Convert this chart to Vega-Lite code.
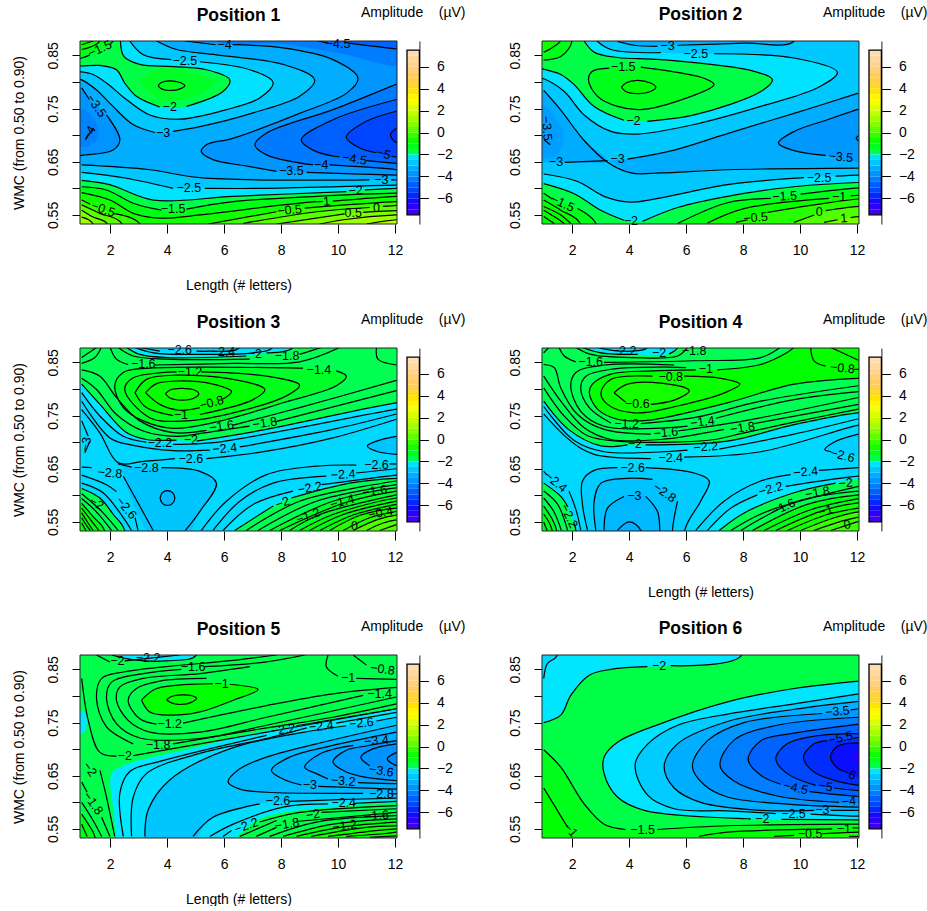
{"$schema":"https://vega.github.io/schema/vega-lite/v6.json","background":"white","padding":{"left":11,"top":5,"right":0,"bottom":0},"bounds":"flush","columns":5,"spacing":{"row":124,"column":10},
"config":{"font":"Liberation Sans","view":{"stroke":null},"axis":{"grid":false,"labelFontSize":14,"titleFontSize":14,"titleFontWeight":"normal","labelColor":"black","titleColor":"black","tickColor":"black","domainColor":"#222","labelFlush":false,"zindex":1},"axisX":{"tickSize":9,"labelPadding":10,"titlePadding":21,"domain":false},"axisLeft":{"tickSize":8,"labelAngle":270,"labelAlign":"center","labelBaseline":"bottom","labelPadding":12,"titlePadding":20,"domain":false,"labelOverlap":false},"title":{"fontSize":17.5,"fontWeight":"bold","color":"black","anchor":"middle","offset":17}},
"datasets":{
"frame":[{"x":0.94,"x2":12.07,"y":0.533,"y2":0.877}],
"bar":[{"v":-7.25,"a":-7.5,"b":-7},{"v":-6.75,"a":-7,"b":-6.5},{"v":-6.25,"a":-6.5,"b":-6},{"v":-5.75,"a":-6,"b":-5.5},{"v":-5.25,"a":-5.5,"b":-5},{"v":-4.75,"a":-5,"b":-4.5},{"v":-4.25,"a":-4.5,"b":-4},{"v":-3.75,"a":-4,"b":-3.5},{"v":-3.25,"a":-3.5,"b":-3},{"v":-2.75,"a":-3,"b":-2.5},{"v":-2.25,"a":-2.5,"b":-2},{"v":-1.75,"a":-2,"b":-1.5},{"v":-1.25,"a":-1.5,"b":-1},{"v":-0.75,"a":-1,"b":-0.5},{"v":-0.25,"a":-0.5,"b":0},{"v":0.25,"a":0,"b":0.5},{"v":0.75,"a":0.5,"b":1},{"v":1.25,"a":1,"b":1.5},{"v":1.75,"a":1.5,"b":2},{"v":2.25,"a":2,"b":2.5},{"v":2.75,"a":2.5,"b":3},{"v":3.25,"a":3,"b":3.5},{"v":3.75,"a":3.5,"b":4},{"v":4.25,"a":4,"b":4.5},{"v":4.75,"a":4.5,"b":5},{"v":5.25,"a":5,"b":5.5},{"v":5.75,"a":5.5,"b":6},{"v":6.25,"a":6,"b":6.5},{"v":6.75,"a":6.5,"b":7},{"v":7.25,"a":7,"b":7.5}],
"bf":[{"a":-7.5,"b":7.5}],
"c1":[{"v":-3.25,"x":0,"y":0.4},{"v":-3.25,"x":14,"y":0.4},{"v":-3.25,"x":14,"y":1},{"v":-3.25,"x":0,"y":1},
{"v":-3.75,"x":4.62,"y":0.877},{"v":-3.75,"x":5.7,"y":0.87},{"v":-3.75,"g":1,"x":6.3,"y":0.87},{"v":-3.75,"g":1,"x":8.07,"y":0.864},{"v":-3.75,"g":1,"x":9.82,"y":0.842},{"v":-3.75,"g":1,"x":10.7,"y":0.807},{"v":-3.75,"g":1,"x":10.3,"y":0.779},{"v":-3.75,"g":1,"x":8.65,"y":0.741},{"v":-3.75,"g":1,"x":6.3,"y":0.694},{"v":-3.75,"g":1,"x":5.38,"y":0.682},{"v":-3.75,"g":1,"x":5.2,"y":0.669},{"v":-3.75,"g":1,"x":5.61,"y":0.654},{"v":-3.75,"g":1,"x":6.9,"y":0.641},{"v":-3.75,"g":1,"x":7.84,"y":0.632},{"v":-3.75,"g":2,"x":8.9,"y":0.63},{"v":-3.75,"g":2,"x":12.05,"y":0.625},{"v":-3.75,"g":2,"x":12.5,"y":0.625},{"v":-3.75,"g":2,"x":12.5,"y":0.95},{"v":-3.75,"g":2,"x":4.62,"y":0.95},
{"v":-4.25,"g":"n","x":5.7,"y":0.9},{"v":-4.25,"g":"n","x":5.7,"y":0.878},{"v":-4.25,"g":"n","x":8,"y":0.872},{"v":-4.25,"g":"n","x":10,"y":0.855},{"v":-4.25,"g":"n","x":12.5,"y":0.835},{"v":-4.25,"g":"n","x":12.5,"y":0.95},
{"v":-4.26,"x":12.05,"y":0.796},{"v":-4.26,"x":9.82,"y":0.748},{"v":-4.26,"x":7.49,"y":0.704},{"v":-4.26,"x":7.08,"y":0.682},{"v":-4.26,"x":7.49,"y":0.663},{"v":-4.26,"x":9.12,"y":0.644},{"v":-4.26,"g":1,"x":9.7,"y":0.644},{"v":-4.26,"g":1,"x":12.05,"y":0.635},{"v":-4.26,"g":1,"x":12.5,"y":0.63},{"v":-4.26,"g":1,"x":12.5,"y":0.8},
{"v":-4.7,"x":9.3,"y":0.877},{"v":-4.7,"x":9.65,"y":0.873},{"v":-4.7,"g":1,"x":10.4,"y":0.873},{"v":-4.7,"g":1,"x":12.05,"y":0.862},{"v":-4.7,"g":1,"x":12.5,"y":0.86},{"v":-4.7,"g":1,"x":12.5,"y":0.95},{"v":-4.7,"g":1,"x":9.3,"y":0.95},
{"v":-4.75,"x":12.05,"y":0.767},{"v":-4.75,"x":9.82,"y":0.729},{"v":-4.75,"x":8.71,"y":0.691},{"v":-4.75,"x":9.24,"y":0.669},{"v":-4.75,"x":10.06,"y":0.659},{"v":-4.75,"g":1,"x":10.99,"y":0.652},{"v":-4.75,"g":1,"x":12.05,"y":0.647},{"v":-4.75,"g":1,"x":12.5,"y":0.645},{"v":-4.75,"g":1,"x":12.5,"y":0.77},
{"v":-5.25,"x":12.05,"y":0.745},{"v":-5.25,"x":10.99,"y":0.726},{"v":-5.25,"x":10.29,"y":0.696},{"v":-5.25,"x":10.76,"y":0.676},{"v":-5.25,"x":11.35,"y":0.667},{"v":-5.25,"g":1,"x":11.87,"y":0.66},{"v":-5.25,"g":1,"x":12.05,"y":0.659},{"v":-5.25,"g":1,"x":12.5,"y":0.655},{"v":-5.25,"g":1,"x":12.5,"y":0.75},
{"v":-5.6,"x":12.05,"y":0.713},{"v":-5.6,"x":11.84,"y":0.701},{"v":-5.6,"x":12.05,"y":0.686},{"v":-5.6,"x":12.5,"y":0.686},{"v":-5.6,"x":12.5,"y":0.713},
{"v":-3.76,"x":1,"y":0.789},{"v":-3.76,"x":1.27,"y":0.767},{"v":-3.76,"g":1,"x":1.87,"y":0.738},{"v":-3.76,"g":1,"x":2.34,"y":0.691},{"v":-3.76,"g":1,"x":2.1,"y":0.672},{"v":-3.76,"g":1,"x":1,"y":0.662},{"v":-3.76,"g":1,"x":0.5,"y":0.66},{"v":-3.76,"g":1,"x":0.5,"y":0.79},
{"v":-4.1,"g":"n","x":0.5,"y":0.76},{"v":-4.1,"g":"n","x":1.3,"y":0.74},{"v":-4.1,"g":"n","x":1.6,"y":0.7},{"v":-4.1,"g":"n","x":1.3,"y":0.68},{"v":-4.1,"g":"n","x":0.5,"y":0.68},
{"v":51,"x":1.13,"y":0.691},{"v":51,"x":1.4,"y":0.713},
{"v":-2.75,"x":3.63,"y":0.877},{"v":-2.75,"x":4.33,"y":0.861},{"v":-2.75,"x":5.73,"y":0.851},{"v":-2.75,"x":8.07,"y":0.833},{"v":-2.75,"x":9.18,"y":0.804},{"v":-2.75,"x":8.65,"y":0.773},{"v":-2.75,"x":7.02,"y":0.742},{"v":-2.75,"x":5.15,"y":0.716},{"v":-2.75,"x":4.2,"y":0.707},{"v":-2.75,"g":1,"x":3.57,"y":0.705},{"v":-2.75,"g":1,"x":2.8,"y":0.72},{"v":-2.75,"g":1,"x":2.1,"y":0.754},{"v":-2.75,"g":1,"x":1.52,"y":0.785},{"v":-2.75,"g":1,"x":1,"y":0.804},{"v":-2.75,"g":1,"x":0.5,"y":0.81},{"v":-2.75,"g":1,"x":0.5,"y":0.95},{"v":-2.75,"g":1,"x":3.63,"y":0.95},
{"v":-2.25,"x":2.69,"y":0.877},{"v":-2.25,"x":3.16,"y":0.851},{"v":-2.25,"x":4.15,"y":0.842},{"v":-2.25,"g":1,"x":5.15,"y":0.838},{"v":-2.25,"g":1,"x":6.9,"y":0.823},{"v":-2.25,"g":1,"x":7.72,"y":0.799},{"v":-2.25,"g":1,"x":7.25,"y":0.77},{"v":-2.25,"g":1,"x":6.08,"y":0.748},{"v":-2.25,"g":1,"x":4.44,"y":0.73},{"v":-2.25,"g":1,"x":3.39,"y":0.738},{"v":-2.25,"g":1,"x":2.57,"y":0.767},{"v":-2.25,"g":1,"x":1.87,"y":0.798},{"v":-2.25,"g":1,"x":1.4,"y":0.814},{"v":-2.25,"g":1,"x":1,"y":0.819},{"v":-2.25,"g":1,"x":0.5,"y":0.82},{"v":-2.25,"g":1,"x":0.5,"y":0.95},{"v":-2.25,"g":1,"x":2.69,"y":0.95},
{"v":-1.7,"x":2.36,"y":0.877},{"v":-1.7,"x":2.48,"y":0.848},{"v":-1.7,"x":3.04,"y":0.833},{"v":-1.7,"x":4.21,"y":0.829},{"v":-1.7,"x":5.38,"y":0.823},{"v":-1.7,"x":6.2,"y":0.804},{"v":-1.7,"x":5.96,"y":0.782},{"v":-1.7,"x":4.68,"y":0.754},{"v":-1.7,"g":1,"x":3.74,"y":0.753},{"v":-1.7,"g":1,"x":2.92,"y":0.773},{"v":-1.7,"g":1,"x":2.51,"y":0.798},{"v":-1.7,"g":1,"x":2.22,"y":0.823},{"v":-1.7,"g":1,"x":1.64,"y":0.831},{"v":-1.7,"g":1,"x":1,"y":0.83},{"v":-1.7,"g":1,"x":0.5,"y":0.83},{"v":-1.7,"g":1,"x":0.5,"y":0.95},{"v":-1.7,"g":1,"x":2.36,"y":0.95},
{"v":-1.45,"g":"n","x":3,"y":0.8},{"v":-1.45,"g":"n","x":3.7,"y":0.825},{"v":-1.45,"g":"n","x":5,"y":0.815},{"v":-1.45,"g":"n","x":5.7,"y":0.8},{"v":-1.45,"g":"n","x":4.8,"y":0.77},{"v":-1.45,"g":"n","x":3.7,"y":0.765},
{"v":-1.3,"x":3.68,"y":0.793},{"v":-1.3,"x":3.8,"y":0.799},{"v":-1.3,"x":4.09,"y":0.802},{"v":-1.3,"x":4.45,"y":0.799},{"v":-1.3,"x":4.62,"y":0.793},{"v":-1.3,"x":4.45,"y":0.787},{"v":-1.3,"x":4.15,"y":0.784},{"v":-1.3,"x":3.8,"y":0.787},{"v":-1.3,"x":3.68,"y":0.793},
{"v":-1.2,"x":2.1,"y":0.877},{"v":-1.2,"x":1.99,"y":0.87},{"v":-1.2,"g":1,"x":1.29,"y":0.851},{"v":-1.2,"g":1,"x":1,"y":0.845},{"v":-1.2,"g":1,"x":0.5,"y":0.84},{"v":-1.2,"g":1,"x":0.5,"y":0.95},{"v":-1.2,"g":1,"x":2.1,"y":0.95},
{"v":-0.8,"x":1,"y":0.861},{"v":-0.8,"x":1.64,"y":0.877},{"v":-0.8,"x":1.64,"y":0.95},{"v":-0.8,"x":0.5,"y":0.95},{"v":-0.8,"x":0.5,"y":0.86},
{"v":52,"x":1,"y":0.87},{"v":52,"x":1.4,"y":0.877},
{"v":-2.76,"x":1,"y":0.644},{"v":-2.76,"x":3.39,"y":0.635},{"v":-2.76,"x":5.15,"y":0.62},{"v":-2.76,"x":11.1,"y":0.616},{"v":-2.76,"g":1,"x":11.87,"y":0.616},{"v":-2.76,"g":1,"x":12.05,"y":0.616},{"v":-2.76,"g":1,"x":12.5,"y":0.616},{"v":-2.76,"g":1,"x":12.5,"y":0.4},{"v":-2.76,"g":1,"x":0.5,"y":0.4},{"v":-2.76,"g":1,"x":0.5,"y":0.644},
{"v":-2.26,"x":1,"y":0.63},{"v":-2.26,"x":2.57,"y":0.619},{"v":-2.26,"x":4.21,"y":0.6},{"v":-2.26,"g":1,"x":5.32,"y":0.6},{"v":-2.26,"g":1,"x":7.49,"y":0.6},{"v":-2.26,"g":1,"x":12.05,"y":0.606},{"v":-2.26,"g":1,"x":12.5,"y":0.606},{"v":-2.26,"g":1,"x":12.5,"y":0.4},{"v":-2.26,"g":1,"x":0.5,"y":0.4},{"v":-2.26,"g":1,"x":0.5,"y":0.63},
{"v":-1.71,"x":1,"y":0.615},{"v":-1.71,"x":1.98,"y":0.607},{"v":-1.71,"x":3.51,"y":0.578},{"v":-1.71,"x":6.32,"y":0.585},{"v":-1.71,"x":10.29,"y":0.594},{"v":-1.71,"g":1,"x":10.94,"y":0.597},{"v":-1.71,"g":1,"x":12.05,"y":0.6},{"v":-1.71,"g":1,"x":12.5,"y":0.6},{"v":-1.71,"g":1,"x":12.5,"y":0.4},{"v":-1.71,"g":1,"x":0.5,"y":0.4},{"v":-1.71,"g":1,"x":0.5,"y":0.615},
{"v":-1.21,"x":1,"y":0.603},{"v":-1.21,"x":1.87,"y":0.597},{"v":-1.21,"x":2.81,"y":0.572},{"v":-1.21,"x":3.8,"y":0.559},{"v":-1.21,"g":1,"x":4.68,"y":0.561},{"v":-1.21,"g":1,"x":6.32,"y":0.575},{"v":-1.21,"g":1,"x":9.24,"y":0.585},{"v":-1.21,"g":1,"x":12.05,"y":0.591},{"v":-1.21,"g":1,"x":12.5,"y":0.591},{"v":-1.21,"g":1,"x":12.5,"y":0.4},{"v":-1.21,"g":1,"x":0.5,"y":0.4},{"v":-1.21,"g":1,"x":0.5,"y":0.603},
{"v":-0.7,"x":1,"y":0.592},{"v":-0.7,"x":1.99,"y":0.578},{"v":-0.7,"x":2.81,"y":0.553},{"v":-0.7,"x":3.74,"y":0.544},{"v":-0.7,"x":5.15,"y":0.55},{"v":-0.7,"x":8.07,"y":0.569},{"v":-0.7,"x":9.24,"y":0.575},{"v":-0.7,"g":1,"x":9.82,"y":0.576},{"v":-0.7,"g":1,"x":12.05,"y":0.585},{"v":-0.7,"g":1,"x":12.5,"y":0.585},{"v":-0.7,"g":1,"x":12.5,"y":0.4},{"v":-0.7,"g":1,"x":0.5,"y":0.4},{"v":-0.7,"g":1,"x":0.5,"y":0.592},
{"v":-0.2,"x":1,"y":0.578},{"v":-0.2,"x":1.3,"y":0.57},{"v":-0.2,"g":1,"x":2.1,"y":0.553},{"v":-0.2,"g":1,"x":3.04,"y":0.533},{"v":-0.2,"g":1,"x":3.04,"y":0.4},{"v":-0.2,"g":1,"x":0.5,"y":0.4},{"v":-0.2,"g":1,"x":0.5,"y":0.578},
{"v":-0.21,"x":5.44,"y":0.533},{"v":-0.21,"x":7.84,"y":0.556},{"v":-0.21,"g":1,"x":8.83,"y":0.563},{"v":-0.21,"g":1,"x":12.05,"y":0.575},{"v":-0.21,"g":1,"x":12.5,"y":0.575},{"v":-0.21,"g":1,"x":12.5,"y":0.4},{"v":-0.21,"g":1,"x":5.44,"y":0.4},
{"v":0.2,"x":1,"y":0.569},{"v":0.2,"x":1.64,"y":0.553},{"v":0.2,"x":2.4,"y":0.534},{"v":0.2,"x":2.4,"y":0.4},{"v":0.2,"x":0.5,"y":0.4},{"v":0.2,"x":0.5,"y":0.569},
{"v":0.21,"x":6.67,"y":0.534},{"v":0.21,"x":9.24,"y":0.556},{"v":0.21,"x":11.11,"y":0.564},{"v":0.21,"g":1,"x":11.58,"y":0.566},{"v":0.21,"g":1,"x":12.05,"y":0.568},{"v":0.21,"g":1,"x":12.5,"y":0.568},{"v":0.21,"g":1,"x":12.5,"y":0.4},{"v":0.21,"g":1,"x":6.67,"y":0.4},
{"v":0.7,"x":1,"y":0.559},{"v":0.7,"x":1.4,"y":0.546},{"v":0.7,"x":1.9,"y":0.533},{"v":0.7,"x":1.9,"y":0.4},{"v":0.7,"x":0.5,"y":0.4},{"v":0.7,"x":0.5,"y":0.559},
{"v":0.71,"x":7.84,"y":0.533},{"v":0.71,"x":10.23,"y":0.552},{"v":0.71,"g":1,"x":10.88,"y":0.555},{"v":0.71,"g":1,"x":12.05,"y":0.558},{"v":0.71,"g":1,"x":12.5,"y":0.558},{"v":0.71,"g":1,"x":12.5,"y":0.4},{"v":0.71,"g":1,"x":7.84,"y":0.4},
{"v":1.2,"x":1,"y":0.546},{"v":1.2,"x":1.4,"y":0.533},{"v":1.2,"x":1.4,"y":0.4},{"v":1.2,"x":0.5,"y":0.4},{"v":1.2,"x":0.5,"y":0.546},
{"v":1.21,"x":9.36,"y":0.533},{"v":1.21,"x":10.18,"y":0.541},{"v":1.21,"x":12.05,"y":0.55},{"v":1.21,"x":12.5,"y":0.55},{"v":1.21,"x":12.5,"y":0.4},{"v":1.21,"x":9.36,"y":0.4},
{"v":1.6,"x":11,"y":0.533},{"v":1.6,"x":12.05,"y":0.541},{"v":1.6,"x":12.5,"y":0.541},{"v":1.6,"x":12.5,"y":0.4},{"v":1.6,"x":11,"y":0.4}],
"t1":[{"t":"−1.5","x":1.64,"y":0.862,"a":-25},{"t":"−2.5","x":4.62,"y":0.839},{"t":"−4","x":6.02,"y":0.869},{"t":"−4.5","x":10,"y":0.872},{"t":"−2","x":4.09,"y":0.753},{"t":"−3.5","x":1.52,"y":0.755,"a":55},{"t":"−4","x":1.26,"y":0.704,"a":-60},{"t":"−3","x":3.86,"y":0.705},{"t":"−5","x":11.6,"y":0.665,"a":15},{"t":"−4.5","x":10.58,"y":0.655,"a":8},{"t":"−4","x":9.41,"y":0.644},{"t":"−3.5","x":8.36,"y":0.632},{"t":"−3","x":11.52,"y":0.615},{"t":"−2.5","x":4.76,"y":0.6},{"t":"−2","x":10.62,"y":0.596,"a":-5},{"t":"−1.5","x":4.21,"y":0.561},{"t":"−1","x":9.47,"y":0.575,"a":-5},{"t":"−0.5","x":1.75,"y":0.561,"a":20},{"t":"−0.5","x":8.3,"y":0.559,"a":-5},{"t":"0.5","x":10.53,"y":0.553},{"t":"0","x":11.35,"y":0.564}],
"c2":[{"v":-2.75,"x":0,"y":0.4},{"v":-2.75,"x":14,"y":0.4},{"v":-2.75,"x":14,"y":1},{"v":-2.75,"x":0,"y":1},
{"v":-3.2,"x":3.59,"y":0.876},{"v":-3.2,"x":4.18,"y":0.869},{"v":-3.2,"x":4.99,"y":0.867},{"v":-3.2,"g":1,"x":5.7,"y":0.869},{"v":-3.2,"g":1,"x":8.04,"y":0.873},{"v":-3.2,"g":1,"x":9.79,"y":0.877},{"v":-3.2,"g":1,"x":9.79,"y":0.95},{"v":-3.2,"g":1,"x":3.59,"y":0.95},
{"v":-3.25,"g":"n","x":3.24,"y":0.652},{"v":-3.25,"g":"n","x":3.94,"y":0.655},{"v":-3.25,"g":"n","x":5.58,"y":0.672},{"v":-3.25,"g":"n","x":7.45,"y":0.703},{"v":-3.25,"g":"n","x":9.79,"y":0.741},{"v":-3.25,"g":"n","x":12.05,"y":0.779},{"v":-3.25,"g":"n","x":12.5,"y":0.78},{"v":-3.25,"g":"n","x":12.5,"y":0.638},{"v":-3.25,"g":"n","x":12.05,"y":0.638},{"v":-3.25,"g":"n","x":7.45,"y":0.635},{"v":-3.25,"g":"n","x":5.11,"y":0.629},{"v":-3.25,"g":"n","x":4.06,"y":0.629},
{"v":-3.26,"g":"n","x":0.5,"y":0.79},{"v":-3.26,"g":"n","x":1,"y":0.784},{"v":-3.26,"g":"n","x":1.6,"y":0.747},{"v":-3.26,"g":"n","x":2.42,"y":0.69},{"v":-3.26,"g":"n","x":3.24,"y":0.652},{"v":-3.26,"g":"n","x":1.74,"y":0.649},{"v":-3.26,"g":"n","x":0.5,"y":0.649},
{"v":51,"x":1,"y":0.784},{"v":51,"x":1.6,"y":0.747},{"v":51,"x":2.42,"y":0.69},{"v":51,"x":3.24,"y":0.649},{"v":51,"x":4.06,"y":0.629},{"v":51,"x":5.11,"y":0.629},{"v":51,"x":7.45,"y":0.635},{"v":51,"x":12.05,"y":0.638},
{"v":52,"x":12.05,"y":0.779},{"v":52,"x":9.79,"y":0.741},{"v":52,"x":7.45,"y":0.703},{"v":52,"x":5.58,"y":0.672},{"v":52,"x":3.94,"y":0.655},{"v":52,"g":1,"x":3.24,"y":0.652},{"v":52,"g":1,"x":1.74,"y":0.649},
{"v":-3.7,"x":12.05,"y":0.749},{"v":-3.7,"x":10.96,"y":0.729},{"v":-3.7,"x":9.79,"y":0.707},{"v":-3.7,"x":9.24,"y":0.685},{"v":-3.7,"x":9.79,"y":0.671},{"v":-3.7,"x":10.9,"y":0.662},{"v":-3.7,"g":"n","x":12.5,"y":0.655},{"v":-3.7,"g":"n","x":12.5,"y":0.75},
{"v":-3.55,"g":"n","x":0.5,"y":0.78},{"v":-3.55,"g":"n","x":1.3,"y":0.74},{"v":-3.55,"g":"n","x":1.7,"y":0.7},{"v":-3.55,"g":"n","x":1.4,"y":0.66},{"v":-3.55,"g":"n","x":0.5,"y":0.66},
{"v":53,"x":1.02,"y":0.691},{"v":53,"x":1.23,"y":0.682},{"v":54,"x":12.05,"y":0.699},{"v":54,"x":11.97,"y":0.694},{"v":54,"x":12.05,"y":0.689},
{"v":-2.25,"x":2.87,"y":0.877},{"v":-2.25,"x":3.36,"y":0.861},{"v":-2.25,"x":5.11,"y":0.855},{"v":-2.25,"g":1,"x":6.98,"y":0.853},{"v":-2.25,"g":1,"x":9.79,"y":0.845},{"v":-2.25,"g":1,"x":11.31,"y":0.818},{"v":-2.25,"g":1,"x":10.61,"y":0.789},{"v":-2.25,"g":1,"x":8.62,"y":0.754},{"v":-2.25,"g":1,"x":6.28,"y":0.72},{"v":-2.25,"g":1,"x":4.29,"y":0.702},{"v":-2.25,"g":1,"x":3.36,"y":0.707},{"v":-2.25,"g":1,"x":2.42,"y":0.738},{"v":-2.25,"g":1,"x":1.72,"y":0.782},{"v":-2.25,"g":1,"x":1,"y":0.806},{"v":-2.25,"g":1,"x":0.5,"y":0.81},{"v":-2.25,"g":1,"x":0.5,"y":0.95},{"v":-2.25,"g":1,"x":2.87,"y":0.95},
{"v":-1.7,"x":2.42,"y":0.877},{"v":-1.7,"x":2.77,"y":0.856},{"v":-1.7,"x":3.59,"y":0.846},{"v":-1.7,"x":5.11,"y":0.842},{"v":-1.7,"x":8.39,"y":0.82},{"v":-1.7,"x":9.03,"y":0.804},{"v":-1.7,"x":8.62,"y":0.782},{"v":-1.7,"x":6.28,"y":0.738},{"v":-1.7,"x":4.64,"y":0.726},{"v":-1.7,"g":1,"x":3.82,"y":0.728},{"v":-1.7,"g":1,"x":2.77,"y":0.754},{"v":-1.7,"g":1,"x":2.07,"y":0.795},{"v":-1.7,"g":1,"x":1.6,"y":0.814},{"v":-1.7,"g":1,"x":1,"y":0.824},{"v":-1.7,"g":1,"x":0.5,"y":0.83},{"v":-1.7,"g":1,"x":0.5,"y":0.95},{"v":-1.7,"g":1,"x":2.42,"y":0.95},
{"v":-1.3,"x":3.3,"y":0.826},{"v":-1.3,"x":2.71,"y":0.82},{"v":-1.3,"x":2.57,"y":0.804},{"v":-1.3,"x":2.89,"y":0.773},{"v":-1.3,"x":3.59,"y":0.754},{"v":-1.3,"x":4.41,"y":0.748},{"v":-1.3,"x":5.7,"y":0.764},{"v":-1.3,"x":6.98,"y":0.795},{"v":-1.3,"x":6.63,"y":0.807},{"v":-1.3,"x":5.81,"y":0.817},{"v":-1.3,"x":4.41,"y":0.828},
{"v":-1,"x":3.73,"y":0.79},{"v":-1,"x":3.88,"y":0.798},{"v":-1,"x":4.29,"y":0.803},{"v":-1,"x":4.75,"y":0.798},{"v":-1,"x":4.94,"y":0.79},{"v":-1,"x":4.75,"y":0.782},{"v":-1,"x":4.35,"y":0.778},{"v":-1,"x":3.88,"y":0.782},{"v":-1,"x":3.73,"y":0.79},
{"v":-1.2,"x":1,"y":0.841},{"v":-1.2,"x":1.6,"y":0.848},{"v":-1.2,"x":1.93,"y":0.867},{"v":-1.2,"x":1.99,"y":0.877},{"v":-1.2,"x":1.99,"y":0.95},{"v":-1.2,"x":0.5,"y":0.95},{"v":-1.2,"x":0.5,"y":0.84},
{"v":-0.8,"x":1,"y":0.856},{"v":-0.8,"x":1.31,"y":0.865},{"v":-0.8,"x":1.58,"y":0.877},{"v":-0.8,"x":1.58,"y":0.95},{"v":-0.8,"x":0.5,"y":0.95},{"v":-0.8,"x":0.5,"y":0.855},
{"v":-2.26,"x":1,"y":0.627},{"v":-2.26,"x":2.19,"y":0.613},{"v":-2.26,"x":3.12,"y":0.585},{"v":-2.26,"x":4.06,"y":0.574},{"v":-2.26,"x":5.11,"y":0.582},{"v":-2.26,"x":7.45,"y":0.607},{"v":-2.26,"x":10.14,"y":0.62},{"v":-2.26,"g":1,"x":11.25,"y":0.623},{"v":-2.26,"g":1,"x":12.05,"y":0.625},{"v":-2.26,"g":1,"x":12.5,"y":0.625},{"v":-2.26,"g":1,"x":12.5,"y":0.4},{"v":-2.26,"g":1,"x":0.5,"y":0.4},{"v":-2.26,"g":1,"x":0.5,"y":0.627},
{"v":-1.71,"x":1,"y":0.609},{"v":-1.71,"x":2.07,"y":0.59},{"v":-1.71,"x":3,"y":0.559},{"v":-1.71,"x":3.82,"y":0.54},{"v":-1.71,"g":1,"x":4.47,"y":0.538},{"v":-1.71,"g":1,"x":5.7,"y":0.564},{"v":-1.71,"g":1,"x":7.45,"y":0.585},{"v":-1.71,"g":1,"x":9.79,"y":0.603},{"v":-1.71,"g":1,"x":12.05,"y":0.611},{"v":-1.71,"g":1,"x":12.5,"y":0.611},{"v":-1.71,"g":1,"x":12.5,"y":0.4},{"v":-1.71,"g":1,"x":0.5,"y":0.4},{"v":-1.71,"g":1,"x":0.5,"y":0.609},
{"v":-1.22,"x":1,"y":0.591},{"v":-1.22,"x":1.3,"y":0.58},{"v":-1.22,"g":1,"x":2.19,"y":0.562},{"v":-1.22,"g":1,"x":2.83,"y":0.534},{"v":-1.22,"g":1,"x":2.83,"y":0.4},{"v":-1.22,"g":1,"x":0.5,"y":0.4},{"v":-1.22,"g":1,"x":0.5,"y":0.591},
{"v":-1.21,"x":5.7,"y":0.534},{"v":-1.21,"x":7.45,"y":0.573},{"v":-1.21,"x":8.97,"y":0.581},{"v":-1.21,"g":1,"x":10.02,"y":0.589},{"v":-1.21,"g":1,"x":12.05,"y":0.601},{"v":-1.21,"g":1,"x":12.5,"y":0.601},{"v":-1.21,"g":1,"x":12.5,"y":0.4},{"v":-1.21,"g":1,"x":5.7,"y":0.4},
{"v":-0.81,"x":6.75,"y":0.535},{"v":-0.81,"x":8.03,"y":0.562},{"v":-0.81,"x":11.02,"y":0.581},{"v":-0.81,"g":1,"x":11.78,"y":0.586},{"v":-0.81,"g":1,"x":12.05,"y":0.587},{"v":-0.81,"g":1,"x":12.5,"y":0.587},{"v":-0.81,"g":1,"x":12.5,"y":0.4},{"v":-0.81,"g":1,"x":6.75,"y":0.4},
{"v":-0.4,"x":7.75,"y":0.536},{"v":-0.4,"x":8.16,"y":0.541},{"v":-0.4,"g":1,"x":8.86,"y":0.555},{"v":-0.4,"g":1,"x":10.5,"y":0.569},{"v":-0.4,"g":1,"x":12.05,"y":0.58},{"v":-0.4,"g":1,"x":12.5,"y":0.58},{"v":-0.4,"g":1,"x":12.5,"y":0.4},{"v":-0.4,"g":1,"x":7.75,"y":0.4},
{"v":0.1,"x":9.79,"y":0.536},{"v":0.1,"x":10.5,"y":0.55},{"v":0.1,"g":1,"x":10.9,"y":0.558},{"v":0.1,"g":1,"x":12.05,"y":0.566},{"v":0.1,"g":1,"x":12.5,"y":0.566},{"v":0.1,"g":1,"x":12.5,"y":0.4},{"v":0.1,"g":1,"x":9.79,"y":0.4},
{"v":0.6,"x":10.84,"y":0.536},{"v":0.6,"x":11.32,"y":0.541},{"v":0.6,"g":1,"x":11.78,"y":0.545},{"v":0.6,"g":1,"x":12.05,"y":0.547},{"v":0.6,"g":1,"x":12.5,"y":0.547},{"v":0.6,"g":1,"x":12.5,"y":0.4},{"v":0.6,"g":1,"x":10.84,"y":0.4},
{"v":-0.91,"x":1,"y":0.578},{"v":-0.91,"x":1.6,"y":0.559},{"v":-0.91,"x":2.28,"y":0.534},{"v":-0.91,"x":2.28,"y":0.4},{"v":-0.91,"x":0.5,"y":0.4},{"v":-0.91,"x":0.5,"y":0.578},
{"v":55,"x":1,"y":0.566},{"v":55,"x":1.6,"y":0.55},{"v":55,"x":1.95,"y":0.534},{"v":56,"x":1,"y":0.559},{"v":56,"x":1.37,"y":0.547},{"v":56,"x":1.72,"y":0.534},{"v":57,"x":1,"y":0.547},{"v":57,"x":1.37,"y":0.534}],
"t2":[{"t":"−3","x":5.35,"y":0.867},{"t":"−2.5","x":6.34,"y":0.853},{"t":"−1.5","x":3.79,"y":0.828},{"t":"−2","x":4.15,"y":0.726},{"t":"−3.5","x":1.11,"y":0.713,"a":85},{"t":"−3","x":1.43,"y":0.649},{"t":"−3","x":3.59,"y":0.655},{"t":"−3.5","x":11.43,"y":0.659,"a":5},{"t":"−2.5","x":10.67,"y":0.62},{"t":"−1.5","x":9.46,"y":0.585,"a":-3},{"t":"−1","x":11.37,"y":0.583},{"t":"−1.5","x":1.66,"y":0.572,"a":25},{"t":"−0.5","x":8.44,"y":0.545,"a":-5},{"t":"0","x":10.67,"y":0.556},{"t":"1","x":11.54,"y":0.544,"a":-5},{"t":"−2","x":4.06,"y":0.539}],
"c3":[{"v":-2.5,"x":0,"y":0.4},{"v":-2.5,"x":14,"y":0.4},{"v":-2.5,"x":14,"y":1},{"v":-2.5,"x":0,"y":1},
{"v":-2.8,"g":"n","x":2.46,"y":0.655},{"v":-2.8,"g":"n","x":3.8,"y":0.652},{"v":-2.8,"g":"n","x":5.15,"y":0.645},{"v":-2.8,"g":"n","x":5.73,"y":0.623},{"v":-2.8,"g":"n","x":5.15,"y":0.57},{"v":-2.8,"g":"n","x":4.64,"y":0.52},{"v":-2.8,"g":"n","x":3.51,"y":0.52},{"v":-2.8,"g":"n","x":2.46,"y":0.636},
{"v":51,"x":1,"y":0.653},{"v":51,"x":1.35,"y":0.652},{"v":52,"x":2.46,"y":0.636},{"v":52,"x":3.51,"y":0.534},{"v":53,"x":2.28,"y":0.659},{"v":53,"x":2.75,"y":0.653},{"v":53,"g":1,"x":3.8,"y":0.652},{"v":53,"g":1,"x":5.15,"y":0.645},{"v":53,"g":1,"x":5.73,"y":0.623},{"v":53,"g":1,"x":5.15,"y":0.57},{"v":53,"g":1,"x":4.64,"y":0.534},
{"v":-3,"x":3.75,"y":0.595},{"v":-3,"x":3.83,"y":0.605},{"v":-3,"x":4.01,"y":0.609},{"v":-3,"x":4.19,"y":0.605},{"v":-3,"x":4.27,"y":0.595},{"v":-3,"x":4.19,"y":0.585},{"v":-3,"x":4.01,"y":0.581},{"v":-3,"x":3.83,"y":0.585},{"v":-3,"x":3.75,"y":0.595},
{"v":-2.81,"x":12.05,"y":0.711},{"v":-2.81,"x":11.35,"y":0.702},{"v":-2.81,"x":11.03,"y":0.693},{"v":-2.81,"x":11.35,"y":0.683},{"v":-2.81,"x":12.05,"y":0.677},{"v":-2.81,"x":12.5,"y":0.677},{"v":-2.81,"x":12.5,"y":0.711},
{"v":54,"x":1,"y":0.761},{"v":54,"x":1.64,"y":0.717},{"v":54,"x":2.28,"y":0.661},{"v":54,"x":3.16,"y":0.664},{"v":54,"x":4.27,"y":0.669},{"v":54,"g":1,"x":5.38,"y":0.669},{"v":54,"g":1,"x":7.49,"y":0.683},{"v":54,"g":1,"x":9.82,"y":0.708},{"v":54,"g":1,"x":12.05,"y":0.743},
{"v":55,"x":1,"y":0.777},{"v":55,"x":1.99,"y":0.708},{"v":55,"x":2.81,"y":0.694},{"v":55,"x":4.21,"y":0.684},{"v":55,"x":5.5,"y":0.685},{"v":55,"g":1,"x":6.55,"y":0.691},{"v":55,"g":1,"x":9.82,"y":0.724},{"v":55,"g":1,"x":12.05,"y":0.753},
{"v":-2.2,"x":1,"y":0.793},{"v":-2.2,"x":1.64,"y":0.749},{"v":-2.2,"x":2.46,"y":0.711},{"v":-2.2,"x":3.27,"y":0.7},{"v":-2.2,"g":1,"x":4.21,"y":0.696},{"v":-2.2,"g":1,"x":5.61,"y":0.699},{"v":-2.2,"g":1,"x":12.05,"y":0.762},{"v":-2.2,"g":1,"x":12.5,"y":0.765},{"v":-2.2,"g":1,"x":12.5,"y":0.95},{"v":-2.2,"g":1,"x":0.5,"y":0.95},{"v":-2.2,"g":1,"x":0.5,"y":0.795},
{"v":-1.8,"x":1,"y":0.809},{"v":-1.8,"x":1.64,"y":0.771},{"v":-1.8,"x":2.57,"y":0.718},{"v":-1.8,"x":3.27,"y":0.705},{"v":-1.8,"x":4.33,"y":0.704},{"v":-1.8,"g":1,"x":5.03,"y":0.702},{"v":-1.8,"g":1,"x":7.49,"y":0.724},{"v":-1.8,"g":1,"x":12.05,"y":0.774},{"v":-1.8,"g":1,"x":12.5,"y":0.775},{"v":-1.8,"g":1,"x":12.5,"y":0.95},{"v":-1.8,"g":1,"x":0.5,"y":0.95},{"v":-1.8,"g":1,"x":0.5,"y":0.81},
{"v":-2.15,"x":2.57,"y":0.878},{"v":-2.15,"x":3.04,"y":0.865},{"v":-2.15,"x":3.98,"y":0.859},{"v":-2.15,"x":6.78,"y":0.862},{"v":-2.15,"g":1,"x":7.49,"y":0.868},{"v":-2.15,"g":1,"x":8.42,"y":0.878},{"v":-2.15,"g":1,"x":8.42,"y":0.95},{"v":-2.15,"g":1,"x":2.57,"y":0.95},
{"v":-2.3,"x":2.87,"y":0.878},{"v":-2.3,"x":3.51,"y":0.868},{"v":-2.3,"x":5.15,"y":0.865},{"v":-2.3,"x":7,"y":0.868},{"v":-2.3,"x":7.7,"y":0.878},{"v":-2.3,"x":7.7,"y":0.95},{"v":-2.3,"x":2.87,"y":0.95},
{"v":-2.51,"x":3.04,"y":0.878},{"v":-2.51,"x":3.74,"y":0.871},{"v":-2.51,"g":1,"x":5.03,"y":0.871},{"v":-2.51,"g":1,"x":5.5,"y":0.871},{"v":-2.51,"g":1,"x":6.55,"y":0.878},{"v":-2.51,"g":1,"x":6.55,"y":0.95},{"v":-2.51,"g":1,"x":3.04,"y":0.95},
{"v":56,"x":2.28,"y":0.878},{"v":56,"x":2.81,"y":0.862},{"v":56,"x":3.98,"y":0.856},{"v":56,"x":6.9,"y":0.856},{"v":56,"g":1,"x":8.65,"y":0.865},{"v":56,"g":1,"x":9.42,"y":0.878},
{"v":57,"x":1,"y":0.82},{"v":57,"x":1.52,"y":0.799},{"v":57,"x":2.22,"y":0.752},{"v":57,"x":3.16,"y":0.721},{"v":57,"x":4.33,"y":0.711},{"v":57,"x":5.38,"y":0.718},{"v":57,"x":6.9,"y":0.73},{"v":57,"g":1,"x":7.78,"y":0.738},{"v":57,"g":1,"x":12.05,"y":0.797},
{"v":58,"x":1,"y":0.836},{"v":58,"x":1.64,"y":0.824},{"v":58,"x":2.22,"y":0.784},{"v":58,"x":3.04,"y":0.74},{"v":58,"x":4.21,"y":0.718},{"v":58,"x":5.38,"y":0.722},{"v":58,"g":1,"x":6.32,"y":0.732},{"v":58,"g":1,"x":8.65,"y":0.765},{"v":58,"g":1,"x":12.05,"y":0.816},
{"v":59,"x":2,"y":0.878},{"v":59,"x":2.22,"y":0.856},{"v":59,"x":2.63,"y":0.846},{"v":59,"g":1,"x":3.57,"y":0.845},{"v":59,"g":1,"x":6.32,"y":0.848},{"v":59,"g":1,"x":8.65,"y":0.851},{"v":59,"g":1,"x":10.06,"y":0.878},
{"v":-1.5,"x":9.94,"y":0.834},{"v":-1.5,"x":10.29,"y":0.824},{"v":-1.5,"x":9.94,"y":0.806},{"v":-1.5,"x":8.07,"y":0.774},{"v":-1.5,"x":5.73,"y":0.738},{"v":-1.5,"x":4.21,"y":0.726},{"v":-1.5,"x":3.16,"y":0.74},{"v":-1.5,"x":2.46,"y":0.765},{"v":-1.5,"x":2.16,"y":0.806},{"v":-1.5,"x":2.46,"y":0.831},{"v":-1.5,"x":3.39,"y":0.839},{"v":-1.5,"x":8.77,"y":0.839},
{"v":-1.25,"x":5.2,"y":0.832},{"v":-1.25,"x":7.49,"y":0.824},{"v":-1.25,"x":8.65,"y":0.807},{"v":-1.25,"x":8.19,"y":0.787},{"v":-1.25,"x":6.32,"y":0.755},{"v":-1.25,"x":4.68,"y":0.74},{"v":-1.25,"x":3.39,"y":0.746},{"v":-1.25,"x":2.51,"y":0.799},{"v":-1.25,"x":2.81,"y":0.821},{"v":-1.25,"x":4.33,"y":0.832},
{"v":-1,"x":2.87,"y":0.793},{"v":-1,"x":3.27,"y":0.818},{"v":-1,"x":4.33,"y":0.826},{"v":-1,"x":6.32,"y":0.818},{"v":-1,"x":7.43,"y":0.799},{"v":-1,"x":7.02,"y":0.78},{"v":-1,"x":5.15,"y":0.752},{"v":-1,"g":1,"x":4.21,"y":0.75},{"v":-1,"g":1,"x":3.27,"y":0.765},{"v":-1,"g":1,"x":2.87,"y":0.793},
{"v":-0.85,"x":3.24,"y":0.793},{"v":-0.85,"x":3.63,"y":0.81},{"v":-0.85,"x":4.44,"y":0.815},{"v":-0.85,"x":5.61,"y":0.809},{"v":-0.85,"x":6.26,"y":0.795},{"v":-0.85,"x":6.08,"y":0.785},{"v":-0.85,"x":5.9,"y":0.78},{"v":-0.85,"g":1,"x":5.15,"y":0.765},{"v":-0.85,"g":1,"x":4.44,"y":0.76},{"v":-0.85,"g":1,"x":3.74,"y":0.771},{"v":-0.85,"g":1,"x":3.24,"y":0.793},
{"v":-0.6,"x":3.94,"y":0.791},{"v":-0.6,"x":4.1,"y":0.798},{"v":-0.6,"x":4.5,"y":0.801},{"v":-0.6,"x":4.95,"y":0.798},{"v":-0.6,"x":5.11,"y":0.791},{"v":-0.6,"x":4.95,"y":0.783},{"v":-0.6,"x":4.5,"y":0.779},{"v":-0.6,"x":4.1,"y":0.783},{"v":-0.6,"x":3.94,"y":0.791},
{"v":60,"x":5.2,"y":0.534},{"v":60,"x":6.08,"y":0.589},{"v":60,"x":7.49,"y":0.639},{"v":60,"x":9.24,"y":0.655},{"v":60,"x":10.64,"y":0.657},{"v":60,"g":1,"x":11.81,"y":0.659},{"v":60,"g":1,"x":12.05,"y":0.659},
{"v":61,"x":5.61,"y":0.534},{"v":61,"x":6.55,"y":0.589},{"v":61,"x":7.72,"y":0.623},{"v":61,"x":9.59,"y":0.636},{"v":61,"g":1,"x":10.64,"y":0.642},{"v":61,"g":1,"x":12.05,"y":0.65},
{"v":-2.21,"x":5.96,"y":0.534},{"v":-2.21,"x":7.02,"y":0.583},{"v":-2.21,"x":8.42,"y":0.608},{"v":-2.21,"g":1,"x":9.42,"y":0.62},{"v":-2.21,"g":1,"x":12.05,"y":0.638},{"v":-2.21,"g":1,"x":12.5,"y":0.64},{"v":-2.21,"g":1,"x":12.5,"y":0.4},{"v":-2.21,"g":1,"x":5.96,"y":0.4},
{"v":-1.81,"x":6.37,"y":0.534},{"v":-1.81,"x":7.72,"y":0.58},{"v":-1.81,"g":1,"x":8.36,"y":0.595},{"v":-1.81,"g":1,"x":10.41,"y":0.623},{"v":-1.81,"g":1,"x":12.05,"y":0.632},{"v":-1.81,"g":1,"x":12.5,"y":0.632},{"v":-1.81,"g":1,"x":12.5,"y":0.4},{"v":-1.81,"g":1,"x":6.37,"y":0.4},
{"v":62,"x":6.78,"y":0.534},{"v":62,"x":8.65,"y":0.589},{"v":62,"x":12.05,"y":0.627},{"v":63,"x":7.19,"y":0.534},{"v":63,"x":9.24,"y":0.589},{"v":63,"x":12.05,"y":0.62},
{"v":-1.51,"x":7.6,"y":0.534},{"v":-1.51,"x":9.82,"y":0.589},{"v":-1.51,"x":12.05,"y":0.614},{"v":-1.51,"x":12.5,"y":0.614},{"v":-1.51,"x":12.5,"y":0.4},{"v":-1.51,"x":7.6,"y":0.4},
{"v":64,"x":7.95,"y":0.534},{"v":64,"x":10.29,"y":0.587},{"v":64,"x":12.05,"y":0.608},{"v":65,"x":8.3,"y":0.534},{"v":65,"x":9.36,"y":0.564},{"v":65,"x":12.05,"y":0.601},
{"v":-1.1,"x":8.65,"y":0.534},{"v":-1.1,"x":9.82,"y":0.564},{"v":-1.1,"x":12.05,"y":0.595},{"v":-1.1,"x":12.5,"y":0.595},{"v":-1.1,"x":12.5,"y":0.4},{"v":-1.1,"x":8.65,"y":0.4},
{"v":66,"x":9,"y":0.534},{"v":66,"x":10.18,"y":0.564},{"v":66,"x":12.05,"y":0.589},{"v":67,"x":9.36,"y":0.534},{"v":67,"x":10.53,"y":0.563},{"v":67,"x":12.05,"y":0.583},
{"v":-0.4,"x":9.71,"y":0.534},{"v":-0.4,"x":10.8,"y":0.563},{"v":-0.4,"x":12.05,"y":0.576},{"v":-0.4,"x":12.5,"y":0.576},{"v":-0.4,"x":12.5,"y":0.4},{"v":-0.4,"x":9.71,"y":0.4},
{"v":68,"x":10.18,"y":0.534},{"v":68,"x":11.11,"y":0.558},{"v":68,"x":12.05,"y":0.57},
{"v":0.1,"x":10.53,"y":0.534},{"v":0.1,"x":11.35,"y":0.554},{"v":0.1,"x":12.05,"y":0.563},{"v":0.1,"x":12.5,"y":0.563},{"v":0.1,"x":12.5,"y":0.4},{"v":0.1,"x":10.53,"y":0.4},
{"v":69,"x":11,"y":0.534},{"v":69,"x":11.58,"y":0.548},{"v":69,"x":12.05,"y":0.554},{"v":70,"x":11.46,"y":0.534},{"v":70,"x":12.05,"y":0.545},
{"v":71,"x":1,"y":0.638},{"v":71,"x":1.87,"y":0.62},{"v":71,"x":2.22,"y":0.607},{"v":71,"g":1,"x":2.87,"y":0.558},{"v":71,"g":1,"x":2.98,"y":0.534},
{"v":72,"x":1,"y":0.623},{"v":72,"x":1.75,"y":0.605},{"v":72,"x":2.46,"y":0.558},{"v":72,"x":2.75,"y":0.534},
{"v":-1.82,"x":1,"y":0.613},{"v":-1.82,"x":1.64,"y":0.595},{"v":-1.82,"x":2.11,"y":0.564},{"v":-1.82,"x":2.51,"y":0.534},{"v":-1.82,"x":2.51,"y":0.4},{"v":-1.82,"x":0.5,"y":0.4},{"v":-1.82,"x":0.5,"y":0.613},
{"v":73,"x":1,"y":0.603},{"v":73,"x":1.7,"y":0.57},{"v":73,"x":2.28,"y":0.534},{"v":74,"x":1,"y":0.594},{"v":74,"x":1.5,"y":0.57},{"v":74,"x":2.05,"y":0.534},
{"v":-1.11,"x":1,"y":0.585},{"v":-1.11,"x":1.4,"y":0.56},{"v":-1.11,"x":1.8,"y":0.534},{"v":-1.11,"x":1.8,"y":0.4},{"v":-1.11,"x":0.5,"y":0.4},{"v":-1.11,"x":0.5,"y":0.585},
{"v":75,"x":1,"y":0.576},{"v":75,"x":1.3,"y":0.555},{"v":75,"x":1.6,"y":0.534},{"v":76,"x":1,"y":0.567},{"v":76,"x":1.2,"y":0.55},{"v":76,"x":1.4,"y":0.534},{"v":77,"x":1,"y":0.558},{"v":77,"x":1.15,"y":0.545},{"v":77,"x":1.3,"y":0.534},{"v":78,"x":1,"y":0.548},{"v":78,"x":1.15,"y":0.534},
{"v":79,"x":1,"y":0.859},{"v":79,"x":1.52,"y":0.878},{"v":80,"x":1,"y":0.848},{"v":80,"x":1.46,"y":0.859},{"v":80,"x":1.69,"y":0.878},{"v":81,"x":11.35,"y":0.878},{"v":81,"x":11.4,"y":0.856},{"v":81,"x":12.05,"y":0.845},{"v":82,"x":1,"y":0.74},{"v":82,"x":1.23,"y":0.711},{"v":83,"x":1.11,"y":0.68},{"v":83,"x":1.29,"y":0.702}],
"t3":[{"t":"−2.6","x":4.44,"y":0.873},{"t":"−2.4","x":5.96,"y":0.87},{"t":"−2","x":7.08,"y":0.865},{"t":"−1.8","x":8.21,"y":0.862},{"t":"−1.6","x":3.16,"y":0.846},{"t":"−1.2","x":4.8,"y":0.832},{"t":"−1.4","x":9.33,"y":0.835},{"t":"−0.8","x":5.56,"y":0.774,"a":-15},{"t":"−1","x":4.48,"y":0.751},{"t":"−1.6","x":5.91,"y":0.73,"a":-8},{"t":"−1.8","x":7.43,"y":0.736,"a":-8},{"t":"−2.2","x":3.74,"y":0.699},{"t":"−2","x":4.83,"y":0.705},{"t":"−2.4","x":6.02,"y":0.688,"a":-5},{"t":"−2.6","x":4.83,"y":0.669},{"t":"−2.8","x":1.99,"y":0.642,"a":5},{"t":"−2.8","x":3.27,"y":0.652},{"t":"−3","x":1.15,"y":0.696,"a":-80},{"t":"−2.6","x":11.35,"y":0.658},{"t":"−2.4","x":10.18,"y":0.639,"a":-3},{"t":"−2.2","x":9.01,"y":0.614,"a":-10},{"t":"−2","x":8.05,"y":0.586,"a":-20},{"t":"−1.6","x":11.29,"y":0.608,"a":-8},{"t":"−1.4","x":10.15,"y":0.588,"a":-15},{"t":"−1.2","x":8.95,"y":0.561,"a":-20},{"t":"−0.4","x":11.5,"y":0.567,"a":-10},{"t":"0","x":10.58,"y":0.542},{"t":"−2","x":1.52,"y":0.585,"a":30},{"t":"−2.6","x":2.57,"y":0.576,"a":50}],
"c4":[{"v":-2.5,"x":0,"y":0.4},{"v":-2.5,"x":14,"y":0.4},{"v":-2.5,"x":14,"y":1},{"v":-2.5,"x":0,"y":1},
{"v":-2.7,"x":2.54,"y":0.534},{"v":-2.7,"x":2.36,"y":0.583},{"v":-2.7,"x":2.36,"y":0.627},{"v":-2.7,"x":2.77,"y":0.647},{"v":-2.7,"x":3.59,"y":0.652},{"v":-2.7,"g":1,"x":4.58,"y":0.652},{"v":-2.7,"g":1,"x":6.28,"y":0.642},{"v":-2.7,"g":1,"x":6.81,"y":0.627},{"v":-2.7,"g":1,"x":6.51,"y":0.589},{"v":-2.7,"g":1,"x":5.95,"y":0.534},{"v":-2.7,"g":1,"x":5.95,"y":0.4},{"v":-2.7,"g":1,"x":2.54,"y":0.4},
{"v":-2.85,"x":2.83,"y":0.534},{"v":-2.85,"x":2.77,"y":0.589},{"v":-2.85,"x":3.01,"y":0.623},{"v":-2.85,"x":3.94,"y":0.632},{"v":-2.85,"x":4.82,"y":0.63},{"v":-2.85,"g":1,"x":5.7,"y":0.589},{"v":-2.85,"g":1,"x":5.52,"y":0.534},{"v":-2.85,"g":1,"x":5.52,"y":0.4},{"v":-2.85,"g":1,"x":2.83,"y":0.4},
{"v":-3,"x":3.12,"y":0.534},{"v":-3,"x":3.24,"y":0.576},{"v":-3,"x":3.82,"y":0.598},{"v":-3,"g":1,"x":4.58,"y":0.598},{"v":-3,"g":1,"x":4.99,"y":0.57},{"v":-3,"g":1,"x":5.08,"y":0.534},{"v":-3,"g":1,"x":5.08,"y":0.4},{"v":-3,"g":1,"x":3.12,"y":0.4},
{"v":-3.2,"x":3.59,"y":0.534},{"v":-3.2,"x":4,"y":0.55},{"v":-3.2,"x":4.41,"y":0.534},{"v":-3.2,"x":4.41,"y":0.4},{"v":-3.2,"x":3.59,"y":0.4},
{"v":-2.65,"x":12.05,"y":0.715},{"v":-2.65,"x":11.19,"y":0.7},{"v":-2.65,"x":10.87,"y":0.686},{"v":-2.65,"x":11.1,"y":0.682},{"v":-2.65,"g":"n","x":12.5,"y":0.68},{"v":-2.65,"g":"n","x":12.5,"y":0.72},
{"v":-2.25,"x":1,"y":0.753},{"v":-2.25,"x":1.95,"y":0.702},{"v":-2.25,"x":2.77,"y":0.677},{"v":-2.25,"x":4.76,"y":0.669},{"v":-2.25,"g":1,"x":5.93,"y":0.672},{"v":-2.25,"g":1,"x":8.62,"y":0.682},{"v":-2.25,"g":1,"x":12.05,"y":0.732},{"v":-2.25,"g":1,"x":12.5,"y":0.735},{"v":-2.25,"g":1,"x":12.5,"y":0.95},{"v":-2.25,"g":1,"x":0.5,"y":0.95},{"v":-2.25,"g":1,"x":0.5,"y":0.755},
{"v":51,"x":1,"y":0.767},{"v":51,"x":2.07,"y":0.703},{"v":51,"x":3.12,"y":0.682},{"v":51,"x":6.05,"y":0.685},{"v":51,"g":1,"x":7.16,"y":0.687},{"v":51,"g":1,"x":9.79,"y":0.715},{"v":51,"g":1,"x":12.05,"y":0.744},
{"v":-1.8,"x":1,"y":0.777},{"v":-1.8,"x":1.87,"y":0.724},{"v":-1.8,"x":3.01,"y":0.693},{"v":-1.8,"x":3.94,"y":0.695},{"v":-1.8,"g":1,"x":4.58,"y":0.695},{"v":-1.8,"g":1,"x":7.45,"y":0.702},{"v":-1.8,"g":1,"x":9.79,"y":0.733},{"v":-1.8,"g":1,"x":12.05,"y":0.755},{"v":-1.8,"g":1,"x":12.5,"y":0.755},{"v":-1.8,"g":1,"x":12.5,"y":0.95},{"v":-1.8,"g":1,"x":0.5,"y":0.95},{"v":-1.8,"g":1,"x":0.5,"y":0.777},
{"v":-2.15,"x":2.36,"y":0.878},{"v":-2.15,"x":3.01,"y":0.868},{"v":-2.15,"x":4.3,"y":0.865},{"v":-2.15,"g":1,"x":5.4,"y":0.866},{"v":-2.15,"g":1,"x":5.7,"y":0.878},{"v":-2.15,"g":1,"x":5.7,"y":0.95},{"v":-2.15,"g":1,"x":2.36,"y":0.95},
{"v":-2.3,"x":2.89,"y":0.878},{"v":-2.3,"x":3.47,"y":0.872},{"v":-2.3,"x":4.29,"y":0.872},{"v":-2.3,"x":4.64,"y":0.878},{"v":-2.3,"x":4.64,"y":0.95},{"v":-2.3,"x":2.89,"y":0.95},
{"v":52,"x":2.13,"y":0.878},{"v":52,"x":2.65,"y":0.865},{"v":52,"x":4.18,"y":0.859},{"v":52,"x":5.7,"y":0.862},{"v":52,"x":6.05,"y":0.878},
{"v":53,"x":1.54,"y":0.878},{"v":53,"x":1.72,"y":0.862},{"v":53,"x":2.13,"y":0.851},{"v":53,"g":1,"x":3.12,"y":0.85},{"v":53,"g":1,"x":6.28,"y":0.853},{"v":53,"g":1,"x":8.62,"y":0.859},{"v":53,"g":1,"x":9.3,"y":0.878},
{"v":-1,"x":9.79,"y":0.878},{"v":-1,"x":9.47,"y":0.866},{"v":-1,"x":8.62,"y":0.846},{"v":-1,"x":7.1,"y":0.836},{"v":-1,"g":1,"x":6.34,"y":0.836},{"v":-1,"g":1,"x":4.82,"y":0.834},{"v":-1,"g":1,"x":3.36,"y":0.828},{"v":-1,"g":1,"x":2.71,"y":0.809},{"v":-1,"g":1,"x":2.6,"y":0.793},{"v":-1,"g":1,"x":2.89,"y":0.762},{"v":-1,"g":1,"x":3.59,"y":0.743},{"v":-1,"g":1,"x":4.64,"y":0.741},{"v":-1,"g":1,"x":7.45,"y":0.774},{"v":-1,"g":1,"x":9.79,"y":0.809},{"v":-1,"g":1,"x":12.05,"y":0.82},{"v":-1,"g":1,"x":12.5,"y":0.82},{"v":-1,"g":1,"x":12.5,"y":0.95},{"v":-1,"g":1,"x":9.79,"y":0.95},
{"v":-0.8,"x":5.93,"y":0.824},{"v":-0.8,"x":7.22,"y":0.82},{"v":-0.8,"x":7.89,"y":0.809},{"v":-0.8,"x":7.45,"y":0.795},{"v":-0.8,"x":5.7,"y":0.768},{"v":-0.8,"x":4.18,"y":0.755},{"v":-0.8,"x":3.24,"y":0.771},{"v":-0.8,"x":3.01,"y":0.793},{"v":-0.8,"x":3.36,"y":0.818},{"v":-0.8,"x":4.82,"y":0.824},
{"v":-0.6,"x":3.47,"y":0.793},{"v":-0.6,"x":3.94,"y":0.809},{"v":-0.6,"x":5.11,"y":0.811},{"v":-0.6,"x":6.11,"y":0.797},{"v":-0.6,"x":5.58,"y":0.779},{"v":-0.6,"x":4.76,"y":0.771},{"v":-0.6,"g":1,"x":3.88,"y":0.775},{"v":-0.6,"g":1,"x":3.47,"y":0.793},
{"v":54,"x":6,"y":0.84},{"v":54,"x":5.34,"y":0.841},{"v":54,"x":3.36,"y":0.837},{"v":54,"x":2.48,"y":0.824},{"v":54,"x":2.3,"y":0.802},{"v":54,"x":2.6,"y":0.765},{"v":54,"x":3.36,"y":0.736},{"v":54,"g":1,"x":4.41,"y":0.735},{"v":54,"g":1,"x":6.28,"y":0.746},{"v":54,"g":1,"x":8.62,"y":0.777},{"v":54,"g":1,"x":12.05,"y":0.806},
{"v":55,"x":5.58,"y":0.845},{"v":55,"x":3.12,"y":0.845},{"v":55,"x":2.13,"y":0.831},{"v":55,"x":1.95,"y":0.806},{"v":55,"x":2.3,"y":0.758},{"v":55,"x":3.12,"y":0.73},{"v":55,"x":4.9,"y":0.726},{"v":55,"x":6.05,"y":0.73},{"v":55,"g":1,"x":7.04,"y":0.745},{"v":55,"g":1,"x":9.79,"y":0.78},{"v":55,"g":1,"x":12.05,"y":0.795},
{"v":56,"x":1,"y":0.846},{"v":56,"x":1.37,"y":0.84},{"v":56,"x":1.6,"y":0.802},{"v":56,"x":2.19,"y":0.752},{"v":56,"x":3.12,"y":0.724},{"v":56,"x":4.76,"y":0.715},{"v":56,"g":1,"x":5.7,"y":0.721},{"v":56,"g":1,"x":8.03,"y":0.74},{"v":56,"g":1,"x":12.05,"y":0.784},
{"v":57,"x":1,"y":0.824},{"v":57,"x":1.6,"y":0.777},{"v":57,"x":2.42,"y":0.727},{"v":57,"x":3.36,"y":0.705},{"v":57,"x":5.11,"y":0.705},{"v":57,"x":7.33,"y":0.724},{"v":57,"g":1,"x":8.39,"y":0.735},{"v":57,"g":1,"x":12.05,"y":0.771},
{"v":58,"x":1,"y":0.802},{"v":58,"x":1.72,"y":0.749},{"v":58,"x":2.54,"y":0.712},{"v":58,"x":3.59,"y":0.702},{"v":58,"x":5.5,"y":0.7},{"v":58,"x":7,"y":0.705},{"v":58,"x":8,"y":0.717},{"v":58,"x":10,"y":0.74},{"v":58,"x":12.05,"y":0.762},
{"v":-0.9,"x":10.37,"y":0.878},{"v":-0.9,"x":10.49,"y":0.853},{"v":-0.9,"x":10.9,"y":0.843},{"v":-0.9,"g":1,"x":11.9,"y":0.837},{"v":-0.9,"g":1,"x":12.05,"y":0.837},{"v":-0.9,"g":1,"x":12.5,"y":0.837},{"v":-0.9,"g":1,"x":12.5,"y":0.95},{"v":-0.9,"g":1,"x":10.37,"y":0.95},
{"v":59,"x":11.08,"y":0.878},{"v":59,"x":12.05,"y":0.854},{"v":60,"x":1,"y":0.868},{"v":60,"x":1.18,"y":0.878},
{"v":61,"x":6.34,"y":0.534},{"v":61,"x":7.33,"y":0.589},{"v":61,"x":8.62,"y":0.627},{"v":61,"x":9.67,"y":0.639},{"v":61,"g":1,"x":10.67,"y":0.647},{"v":61,"g":1,"x":12.05,"y":0.652},
{"v":-2.2,"x":6.75,"y":0.534},{"v":-2.2,"x":7.57,"y":0.576},{"v":-2.2,"x":8.5,"y":0.601},{"v":-2.2,"g":1,"x":9.5,"y":0.617},{"v":-2.2,"g":1,"x":12.05,"y":0.636},{"v":-2.2,"g":1,"x":12.5,"y":0.636},{"v":-2.2,"g":1,"x":12.5,"y":0.4},{"v":-2.2,"g":1,"x":6.75,"y":0.4},
{"v":-1.81,"x":7.16,"y":0.534},{"v":-1.81,"x":8.04,"y":0.567},{"v":-1.81,"x":9.79,"y":0.605},{"v":-1.81,"x":11.25,"y":0.623},{"v":-1.81,"g":1,"x":12.05,"y":0.63},{"v":-1.81,"g":1,"x":12.5,"y":0.63},{"v":-1.81,"g":1,"x":12.5,"y":0.4},{"v":-1.81,"g":1,"x":7.16,"y":0.4},
{"v":62,"x":7.57,"y":0.534},{"v":62,"x":8.85,"y":0.57},{"v":62,"x":12.05,"y":0.617},{"v":63,"x":7.92,"y":0.534},{"v":63,"x":9.9,"y":0.589},{"v":63,"x":12.05,"y":0.608},
{"v":-1.2,"x":8.33,"y":0.534},{"v":-1.2,"x":10.25,"y":0.583},{"v":-1.2,"x":12.05,"y":0.601},{"v":-1.2,"x":12.5,"y":0.601},{"v":-1.2,"x":12.5,"y":0.4},{"v":-1.2,"x":8.33,"y":0.4},
{"v":64,"x":8.74,"y":0.534},{"v":64,"x":10.37,"y":0.573},{"v":64,"x":12.05,"y":0.594},
{"v":-0.7,"x":9.15,"y":0.534},{"v":-0.7,"x":10.72,"y":0.57},{"v":-0.7,"x":12.05,"y":0.586},{"v":-0.7,"x":12.5,"y":0.586},{"v":-0.7,"x":12.5,"y":0.4},{"v":-0.7,"x":9.15,"y":0.4},
{"v":65,"x":9.56,"y":0.534},{"v":65,"x":10.96,"y":0.564},{"v":65,"x":12.05,"y":0.576},
{"v":-0.2,"x":10.02,"y":0.534},{"v":-0.2,"x":11.2,"y":0.558},{"v":-0.2,"x":12.05,"y":0.569},{"v":-0.2,"x":12.5,"y":0.569},{"v":-0.2,"x":12.5,"y":0.4},{"v":-0.2,"x":10.02,"y":0.4},
{"v":66,"x":10.49,"y":0.534},{"v":66,"x":11.43,"y":0.551},{"v":66,"x":12.05,"y":0.559},{"v":67,"x":11.08,"y":0.534},{"v":67,"x":12.05,"y":0.551},
{"v":68,"x":1,"y":0.645},{"v":68,"x":1.12,"y":0.638},{"v":68,"g":1,"x":1.89,"y":0.608},{"v":68,"g":1,"x":2.15,"y":0.57},{"v":68,"g":1,"x":2.3,"y":0.534},
{"v":-1.82,"x":1,"y":0.623},{"v":-1.82,"x":1.6,"y":0.598},{"v":-1.82,"x":1.85,"y":0.578},{"v":-1.82,"g":1,"x":2.05,"y":0.55},{"v":-1.82,"g":1,"x":2.13,"y":0.534},{"v":-1.82,"g":1,"x":2.13,"y":0.4},{"v":-1.82,"g":1,"x":0.5,"y":0.4},{"v":-1.82,"g":1,"x":0.5,"y":0.623},
{"v":69,"x":1,"y":0.608},{"v":69,"x":1.49,"y":0.583},{"v":69,"x":1.84,"y":0.534},{"v":70,"x":1,"y":0.595},{"v":70,"x":1.35,"y":0.57},{"v":70,"x":1.62,"y":0.534},
{"v":-1.3,"x":1,"y":0.58},{"v":-1.3,"x":1.3,"y":0.555},{"v":-1.3,"x":1.45,"y":0.534},{"v":-1.3,"x":1.45,"y":0.4},{"v":-1.3,"x":0.5,"y":0.4},{"v":-1.3,"x":0.5,"y":0.58},
{"v":71,"x":1,"y":0.565},{"v":71,"x":1.2,"y":0.548},{"v":71,"x":1.3,"y":0.534},{"v":72,"x":1,"y":0.55},{"v":72,"x":1.12,"y":0.534}],
"t4":[{"t":"−2.2","x":3.82,"y":0.871},{"t":"−2","x":5.05,"y":0.867},{"t":"−1.8","x":6.28,"y":0.871},{"t":"−1.6","x":2.65,"y":0.851},{"t":"−0.8","x":5.46,"y":0.823},{"t":"−1","x":6.69,"y":0.837},{"t":"−0.8","x":11.49,"y":0.839,"a":5},{"t":"−0.6","x":4.29,"y":0.772},{"t":"−1.2","x":3.91,"y":0.735},{"t":"−1.4","x":6.57,"y":0.738,"a":-8},{"t":"−1.6","x":5.29,"y":0.718,"a":-5},{"t":"−1.8","x":7.98,"y":0.727,"a":-8},{"t":"−2","x":4.2,"y":0.696},{"t":"−2.2","x":6.69,"y":0.691,"a":-5},{"t":"−2.4","x":5.46,"y":0.671},{"t":"−2.6","x":11.49,"y":0.675,"a":15},{"t":"−2.6","x":4.12,"y":0.652},{"t":"−2.4","x":10.2,"y":0.644,"a":-5},{"t":"−2.2","x":8.97,"y":0.612,"a":-15},{"t":"−2","x":11.6,"y":0.623,"a":-5},{"t":"−1.8","x":10.61,"y":0.605,"a":-10},{"t":"−1.6","x":9.42,"y":0.578,"a":-25},{"t":"−1","x":10.9,"y":0.571,"a":-15},{"t":"0","x":11.66,"y":0.545,"a":-10},{"t":"−2.4","x":1.43,"y":0.625,"a":40},{"t":"−2.2","x":1.89,"y":0.561,"a":65},{"t":"−3","x":4.18,"y":0.598},{"t":"−2.8","x":5.25,"y":0.605,"a":35}],
"c5":[{"v":-1.75,"x":0,"y":0.4},{"v":-1.75,"x":14,"y":0.4},{"v":-1.75,"x":14,"y":1},{"v":-1.75,"x":0,"y":1},
{"v":-2.15,"g":"n","x":2.25,"y":0.52},{"v":-2.15,"g":"n","x":2.11,"y":0.585},{"v":-2.15,"g":"n","x":2.05,"y":0.654},{"v":-2.15,"g":"n","x":2.46,"y":0.669},{"v":-2.15,"g":"n","x":5,"y":0.703},{"v":-2.15,"g":"n","x":7.49,"y":0.735},{"v":-2.15,"g":"n","x":12.05,"y":0.776},{"v":-2.15,"g":"n","x":12.5,"y":0.78},{"v":-2.15,"g":"n","x":12.5,"y":0.6},{"v":-2.15,"g":"n","x":12.05,"y":0.6},{"v":-2.15,"g":"n","x":9.82,"y":0.591},{"v":-2.15,"g":"n","x":8.07,"y":0.581},{"v":-2.15,"g":"n","x":7.13,"y":0.566},{"v":-2.15,"g":"n","x":6.2,"y":0.52},
{"v":-2.16,"g":"n","x":0.5,"y":0.77},{"v":-2.16,"g":"n","x":1.1,"y":0.77},{"v":-2.16,"g":"n","x":1.1,"y":0.732},{"v":-2.16,"g":"n","x":0.5,"y":0.732},
{"v":-2.4,"g":"n","x":2.75,"y":0.52},{"v":-2.4,"g":"n","x":2.81,"y":0.61},{"v":-2.4,"g":"n","x":3.27,"y":0.664},{"v":-2.4,"g":"n","x":5.15,"y":0.7},{"v":-2.4,"g":"n","x":7.49,"y":0.72},{"v":-2.4,"g":"n","x":12.05,"y":0.755},{"v":-2.4,"g":"n","x":12.5,"y":0.76},{"v":-2.4,"g":"n","x":12.5,"y":0.6},{"v":-2.4,"g":"n","x":12.05,"y":0.6},{"v":-2.4,"g":"n","x":9.5,"y":0.6},{"v":-2.4,"g":"n","x":7.8,"y":0.59},{"v":-2.4,"g":"n","x":6,"y":0.54},{"v":-2.4,"g":"n","x":5.9,"y":0.52},
{"v":-2.8,"g":"n","x":3.2,"y":0.52},{"v":-2.8,"g":"n","x":3.3,"y":0.585},{"v":-2.8,"g":"n","x":4.09,"y":0.64},{"v":-2.8,"g":"n","x":6.32,"y":0.703},{"v":-2.8,"g":"n","x":10.29,"y":0.744},{"v":-2.8,"g":"n","x":12.05,"y":0.76},{"v":-2.8,"g":"n","x":12.5,"y":0.76},{"v":-2.8,"g":"n","x":12.5,"y":0.6},{"v":-2.8,"g":"n","x":12.05,"y":0.606},{"v":-2.8,"g":"n","x":8.3,"y":0.602},{"v":-2.8,"g":"n","x":7.25,"y":0.597},{"v":-2.8,"g":"n","x":5.61,"y":0.572},{"v":-2.8,"g":"n","x":4.91,"y":0.52},
{"v":51,"x":2.46,"y":0.536},{"v":51,"x":2.34,"y":0.618},{"v":51,"x":2.69,"y":0.658},{"v":51,"x":3.74,"y":0.677},{"v":51,"x":7.49,"y":0.726},{"v":51,"g":1,"x":8.54,"y":0.744},{"v":51,"g":1,"x":12.05,"y":0.776},
{"v":52,"x":2.75,"y":0.536},{"v":52,"x":2.81,"y":0.61},{"v":52,"x":3.27,"y":0.654},{"v":52,"x":5.15,"y":0.692},{"v":52,"x":7.49,"y":0.72},{"v":52,"x":8.9,"y":0.74},{"v":52,"g":1,"x":9.94,"y":0.749},{"v":52,"g":1,"x":12.05,"y":0.769},
{"v":53,"x":3.22,"y":0.536},{"v":53,"x":3.33,"y":0.585},{"v":53,"x":4.09,"y":0.642},{"v":53,"x":6.32,"y":0.703},{"v":53,"x":10.29,"y":0.744},{"v":53,"g":1,"x":11.35,"y":0.753},{"v":53,"g":1,"x":12.05,"y":0.76},
{"v":-3,"x":12.05,"y":0.745},{"v":-3,"x":9.24,"y":0.71},{"v":-3,"x":7.49,"y":0.685},{"v":-3,"x":6.55,"y":0.663},{"v":-3,"x":6.14,"y":0.638},{"v":-3,"x":6.55,"y":0.625},{"v":-3,"x":7.49,"y":0.619},{"v":-3,"x":10.88,"y":0.617},{"v":-3,"g":1,"x":11.87,"y":0.616},{"v":-3,"g":1,"x":12.05,"y":0.616},{"v":-3,"g":1,"x":12.5,"y":0.615},{"v":-3,"g":1,"x":12.5,"y":0.75},
{"v":-3.2,"x":12.05,"y":0.732},{"v":-3.2,"x":9.82,"y":0.707},{"v":-3.2,"x":8.3,"y":0.685},{"v":-3.2,"x":7.66,"y":0.66},{"v":-3.2,"x":8.19,"y":0.641},{"v":-3.2,"x":8.71,"y":0.633},{"v":-3.2,"g":1,"x":9.3,"y":0.63},{"v":-3.2,"g":1,"x":12.05,"y":0.625},{"v":-3.2,"g":1,"x":12.5,"y":0.625},{"v":-3.2,"g":1,"x":12.5,"y":0.735},
{"v":-3.4,"x":10.53,"y":0.707},{"v":-3.4,"x":9.36,"y":0.691},{"v":-3.4,"x":8.83,"y":0.666},{"v":-3.4,"x":9.24,"y":0.654},{"v":-3.4,"x":9.65,"y":0.644},{"v":-3.4,"g":1,"x":10.7,"y":0.637},{"v":-3.4,"g":1,"x":12.05,"y":0.635},{"v":-3.4,"g":1,"x":12.5,"y":0.635},{"v":-3.4,"g":1,"x":12.5,"y":0.725},
{"v":-3.6,"x":12.05,"y":0.716},{"v":-3.6,"x":10.99,"y":0.706},{"v":-3.6,"x":10.29,"y":0.698},{"v":-3.6,"x":9.82,"y":0.676},{"v":-3.6,"x":10.29,"y":0.657},{"v":-3.6,"x":10.99,"y":0.647},{"v":-3.6,"x":12.05,"y":0.641},{"v":-3.6,"x":12.5,"y":0.64},{"v":-3.6,"x":12.5,"y":0.718},
{"v":-3.8,"x":12.05,"y":0.71},{"v":-3.8,"x":11.2,"y":0.7},{"v":-3.8,"x":10.8,"y":0.685},{"v":-3.8,"x":11.11,"y":0.669},{"v":-3.8,"g":"n","x":12.5,"y":0.655},{"v":-3.8,"g":"n","x":12.5,"y":0.712},
{"v":-4,"x":12.05,"y":0.694},{"v":-4,"x":11.73,"y":0.682},{"v":-4,"x":12.05,"y":0.669},{"v":-4,"x":12.5,"y":0.669},{"v":-4,"x":12.5,"y":0.694},
{"v":-1,"x":3.1,"y":0.792},{"v":-1,"x":3.63,"y":0.814},{"v":-1,"x":5.61,"y":0.823},{"v":-1,"g":1,"x":6.2,"y":0.822},{"v":-1,"g":1,"x":7.19,"y":0.812},{"v":-1,"g":1,"x":6.32,"y":0.792},{"v":-1,"g":1,"x":5.15,"y":0.77},{"v":-1,"g":1,"x":4.09,"y":0.764},{"v":-1,"g":1,"x":3.39,"y":0.77},{"v":-1,"g":1,"x":3.1,"y":0.792},
{"v":-0.9,"x":3.98,"y":0.793},{"v":-0.9,"x":4.15,"y":0.799},{"v":-0.9,"x":4.5,"y":0.802},{"v":-0.9,"x":4.9,"y":0.8},{"v":-0.9,"x":5.03,"y":0.796},{"v":-0.9,"x":4.85,"y":0.788},{"v":-0.9,"x":4.5,"y":0.784},{"v":-0.9,"x":4.15,"y":0.787},{"v":-0.9,"x":3.98,"y":0.793},
{"v":54,"x":9.65,"y":0.877},{"v":54,"x":9.59,"y":0.855},{"v":54,"x":10,"y":0.837},{"v":54,"g":1,"x":10.64,"y":0.833},{"v":54,"g":1,"x":12.05,"y":0.831},
{"v":55,"x":10.53,"y":0.877},{"v":55,"x":11,"y":0.858},{"v":55,"g":1,"x":12.05,"y":0.846},
{"v":56,"x":5.38,"y":0.833},{"v":56,"x":3.74,"y":0.828},{"v":56,"x":2.92,"y":0.814},{"v":56,"x":2.63,"y":0.792},{"v":56,"x":3.04,"y":0.757},{"v":56,"x":3.63,"y":0.747},{"v":56,"g":1,"x":4.56,"y":0.749},{"v":56,"g":1,"x":7.49,"y":0.782},{"v":56,"g":1,"x":9.82,"y":0.804},{"v":56,"g":1,"x":12.05,"y":0.816},
{"v":57,"x":6.9,"y":0.855},{"v":57,"x":5.15,"y":0.842},{"v":57,"x":3.16,"y":0.833},{"v":57,"x":2.34,"y":0.817},{"v":57,"x":2.22,"y":0.792},{"v":57,"x":2.63,"y":0.754},{"v":57,"x":3.39,"y":0.732},{"v":57,"x":5.15,"y":0.732},{"v":57,"x":7.49,"y":0.76},{"v":57,"x":10.88,"y":0.801},{"v":57,"g":1,"x":12.05,"y":0.807},
{"v":58,"x":8.83,"y":0.877},{"v":58,"x":7.49,"y":0.864},{"v":58,"x":5.32,"y":0.855},{"v":58,"g":1,"x":4.5,"y":0.85},{"v":58,"g":1,"x":3.16,"y":0.842},{"v":58,"g":1,"x":2.05,"y":0.826},{"v":58,"g":1,"x":1.87,"y":0.795},{"v":58,"g":1,"x":2.22,"y":0.748},{"v":58,"g":1,"x":3.04,"y":0.721},{"v":58,"g":1,"x":5.15,"y":0.72},{"v":58,"g":1,"x":7.49,"y":0.745},{"v":58,"g":1,"x":12.05,"y":0.798},
{"v":59,"x":7.84,"y":0.877},{"v":59,"x":6.32,"y":0.867},{"v":59,"x":3.98,"y":0.855},{"v":59,"x":2.46,"y":0.845},{"v":59,"x":1.7,"y":0.833},{"v":59,"x":1.52,"y":0.795},{"v":59,"x":1.87,"y":0.742},{"v":59,"x":2.81,"y":0.71},{"v":59,"g":1,"x":4.21,"y":0.71},{"v":59,"g":1,"x":7.49,"y":0.74},{"v":59,"g":1,"x":9.82,"y":0.76},{"v":59,"g":1,"x":12.05,"y":0.785},
{"v":60,"x":1,"y":0.833},{"v":60,"x":1.23,"y":0.754},{"v":60,"x":1.64,"y":0.694},{"v":60,"x":2.22,"y":0.687},{"v":60,"g":1,"x":2.81,"y":0.688},{"v":60,"g":1,"x":5.15,"y":0.71},{"v":60,"g":1,"x":7.49,"y":0.732},{"v":60,"g":1,"x":12.05,"y":0.776},
{"v":61,"x":1.52,"y":0.877},{"v":61,"x":1.99,"y":0.864},{"v":61,"g":1,"x":2.51,"y":0.866},{"v":61,"g":1,"x":4.44,"y":0.877},
{"v":-2.17,"x":2.05,"y":0.877},{"v":-2.17,"x":2.81,"y":0.868},{"v":-2.17,"x":3.98,"y":0.866},{"v":-2.17,"x":5.03,"y":0.877},{"v":-2.17,"x":5.03,"y":0.95},{"v":-2.17,"x":2.05,"y":0.95},
{"v":62,"x":1.64,"y":0.66},{"v":62,"x":1.87,"y":0.61},{"v":62,"x":2.16,"y":0.536},{"v":63,"x":1,"y":0.638},{"v":63,"x":1.19,"y":0.619},{"v":63,"g":1,"x":1.7,"y":0.572},{"v":63,"g":1,"x":1.99,"y":0.536},
{"v":64,"x":1,"y":0.6},{"v":64,"x":1.4,"y":0.566},{"v":64,"x":1.7,"y":0.536},{"v":-1.2,"x":1,"y":0.578},{"v":-1.2,"x":1.23,"y":0.559},{"v":-1.2,"x":1.46,"y":0.536},{"v":-1.2,"x":1.46,"y":0.4},{"v":-1.2,"x":0.5,"y":0.4},{"v":-1.2,"x":0.5,"y":0.578},{"v":65,"x":1,"y":0.559},{"v":65,"x":1.19,"y":0.536},
{"v":66,"x":4.91,"y":0.536},{"v":66,"x":5.61,"y":0.572},{"v":66,"x":7.25,"y":0.597},{"v":66,"g":1,"x":8.3,"y":0.602},{"v":66,"g":1,"x":10,"y":0.605},{"v":66,"g":1,"x":12.05,"y":0.608},
{"v":67,"x":5.5,"y":0.536},{"v":67,"x":6.32,"y":0.559},{"v":67,"x":8.07,"y":0.591},{"v":67,"x":9.65,"y":0.597},{"v":67,"g":1,"x":10.53,"y":0.598},{"v":67,"g":1,"x":12.05,"y":0.602},
{"v":68,"x":5.96,"y":0.536},{"v":68,"x":6.26,"y":0.547},{"v":68,"g":1,"x":7.25,"y":0.563},{"v":68,"g":1,"x":8.65,"y":0.581},{"v":68,"g":1,"x":12.05,"y":0.594},
{"v":69,"x":6.55,"y":0.536},{"v":69,"x":7.84,"y":0.566},{"v":69,"g":1,"x":9.42,"y":0.581},{"v":69,"g":1,"x":12.05,"y":0.588},
{"v":70,"x":7.13,"y":0.536},{"v":70,"x":7.84,"y":0.553},{"v":70,"g":1,"x":8.54,"y":0.564},{"v":70,"g":1,"x":12.05,"y":0.581},
{"v":71,"x":7.6,"y":0.536},{"v":71,"x":9.24,"y":0.563},{"v":71,"x":12.05,"y":0.575},
{"v":-1.3,"x":8.07,"y":0.536},{"v":-1.3,"x":9.82,"y":0.559},{"v":-1.3,"x":12.05,"y":0.569},{"v":-1.3,"x":12.5,"y":0.569},{"v":-1.3,"x":12.5,"y":0.4},{"v":-1.3,"x":8.07,"y":0.4},
{"v":72,"x":8.54,"y":0.536},{"v":72,"x":10.18,"y":0.554},{"v":72,"x":12.05,"y":0.563},
{"v":-0.7,"x":9.06,"y":0.536},{"v":-0.7,"x":10.99,"y":0.553},{"v":-0.7,"x":12.05,"y":0.556},{"v":-0.7,"x":12.5,"y":0.556},{"v":-0.7,"x":12.5,"y":0.4},{"v":-0.7,"x":9.06,"y":0.4},
{"v":73,"x":9.65,"y":0.536},{"v":73,"x":11.35,"y":0.547},{"v":73,"x":12.05,"y":0.55},{"v":74,"x":10.29,"y":0.536},{"v":74,"x":11.58,"y":0.541},{"v":74,"x":12.05,"y":0.544},{"v":75,"x":11.11,"y":0.534},{"v":75,"x":12.05,"y":0.537}],
"t5":[{"t":"−2","x":2.25,"y":0.866},{"t":"−2.2","x":3.33,"y":0.872},{"t":"−1.6","x":4.91,"y":0.855},{"t":"−1","x":5.91,"y":0.822},{"t":"−0.8","x":11.56,"y":0.85,"a":8},{"t":"−1","x":10.35,"y":0.834},{"t":"−1.4","x":11.46,"y":0.804},{"t":"−1.2","x":4.09,"y":0.747},{"t":"−2.2","x":8.07,"y":0.737,"a":-8},{"t":"−2.4","x":9.41,"y":0.743,"a":-5},{"t":"−2.6","x":10.82,"y":0.749,"a":-5},{"t":"−3.4","x":11.35,"y":0.716,"a":-5},{"t":"−1.8","x":3.68,"y":0.708},{"t":"−2","x":2.51,"y":0.687},{"t":"−3.6","x":11.52,"y":0.659,"a":10},{"t":"−3.2","x":10.18,"y":0.64,"a":5},{"t":"−3","x":9.01,"y":0.632},{"t":"−2.8","x":11.52,"y":0.616},{"t":"−2.6","x":7.89,"y":0.602},{"t":"−2.4","x":10.2,"y":0.599},{"t":"−2","x":1.29,"y":0.662,"a":55},{"t":"−1.8","x":1.4,"y":0.598,"a":55},{"t":"−2.2","x":6.78,"y":0.556,"a":-20},{"t":"−1.8","x":8.21,"y":0.559,"a":-10},{"t":"−2","x":9.12,"y":0.577,"a":-10},{"t":"−1.6","x":11.35,"y":0.575,"a":-5},{"t":"−1.2","x":10.23,"y":0.556,"a":-8}],
"c6":[{"v":-1.7,"x":0,"y":0.4},{"v":-1.7,"x":14,"y":0.4},{"v":-1.7,"x":14,"y":1},{"v":-1.7,"x":0,"y":1},
{"v":-2.2,"x":1,"y":0.75},{"v":-2.2,"x":1.6,"y":0.764},{"v":-2.2,"x":1.95,"y":0.801},{"v":-2.2,"x":2.6,"y":0.839},{"v":-2.2,"x":3.36,"y":0.85},{"v":-2.2,"x":4.64,"y":0.855},{"v":-2.2,"g":1,"x":5.46,"y":0.857},{"v":-2.2,"g":1,"x":7.92,"y":0.875},{"v":-2.2,"g":1,"x":7.92,"y":0.95},{"v":-2.2,"g":1,"x":0.5,"y":0.95},{"v":-2.2,"g":1,"x":0.5,"y":0.75},
{"v":-2.5,"x":1,"y":0.833},{"v":-2.5,"x":1.13,"y":0.861},{"v":-2.5,"x":1.46,"y":0.875},{"v":-2.5,"x":1.46,"y":0.95},{"v":-2.5,"x":0.5,"y":0.95},{"v":-2.5,"x":0.5,"y":0.83},
{"v":-1.3,"x":1,"y":0.699},{"v":-1.3,"x":1.6,"y":0.666},{"v":-1.3,"x":2.42,"y":0.597},{"v":-1.3,"x":3.12,"y":0.559},{"v":-1.3,"x":3.88,"y":0.549},{"v":-1.3,"g":1,"x":4.99,"y":0.549},{"v":-1.3,"g":1,"x":7.45,"y":0.556},{"v":-1.3,"g":1,"x":12.05,"y":0.559},{"v":-1.3,"g":1,"x":12.5,"y":0.559},{"v":-1.3,"g":1,"x":12.5,"y":0.4},{"v":-1.3,"g":1,"x":0.5,"y":0.4},{"v":-1.3,"g":1,"x":0.5,"y":0.699},
{"v":-1,"x":1,"y":0.627},{"v":-1,"x":1.66,"y":0.569},{"v":-1,"x":1.84,"y":0.553},{"v":-1,"g":"n","x":2.3,"y":0.52},{"v":-1,"g":"n","x":2.3,"y":0.4},{"v":-1,"g":"n","x":0.5,"y":0.4},{"v":-1,"g":"n","x":0.5,"y":0.627},
{"v":-2.21,"x":12.05,"y":0.828},{"v":-2.21,"x":9.79,"y":0.814},{"v":-2.21,"x":7.45,"y":0.789},{"v":-2.21,"x":5.11,"y":0.748},{"v":-2.21,"x":3.59,"y":0.713},{"v":-2.21,"x":3.12,"y":0.685},{"v":-2.21,"x":3.12,"y":0.654},{"v":-2.21,"x":3.59,"y":0.61},{"v":-2.21,"x":4.53,"y":0.585},{"v":-2.21,"x":8.27,"y":0.569},{"v":-2.21,"g":1,"x":9.35,"y":0.568},{"v":-2.21,"g":1,"x":12.05,"y":0.567},{"v":-2.21,"g":1,"x":12.5,"y":0.567},{"v":-2.21,"g":1,"x":12.5,"y":0.83},
{"v":-2.7,"x":12.05,"y":0.804},{"v":-2.7,"x":9.79,"y":0.785},{"v":-2.7,"x":7.45,"y":0.766},{"v":-2.7,"x":5.7,"y":0.745},{"v":-2.7,"x":4.64,"y":0.709},{"v":-2.7,"x":4.21,"y":0.671},{"v":-2.7,"x":4.64,"y":0.614},{"v":-2.7,"x":5.58,"y":0.588},{"v":-2.7,"x":7.45,"y":0.584},{"v":-2.7,"x":9.15,"y":0.579},{"v":-2.7,"g":1,"x":10.37,"y":0.578},{"v":-2.7,"g":1,"x":12.05,"y":0.574},{"v":-2.7,"g":1,"x":12.5,"y":0.574},{"v":-2.7,"g":1,"x":12.5,"y":0.805},
{"v":-3.2,"x":12.05,"y":0.79},{"v":-3.2,"x":9.79,"y":0.775},{"v":-3.2,"x":7.45,"y":0.752},{"v":-3.2,"x":5.7,"y":0.71},{"v":-3.2,"x":5.23,"y":0.668},{"v":-3.2,"x":5.58,"y":0.627},{"v":-3.2,"x":6.51,"y":0.6},{"v":-3.2,"x":8.62,"y":0.585},{"v":-3.2,"x":10.5,"y":0.585},{"v":-3.2,"g":1,"x":11.07,"y":0.585},{"v":-3.2,"g":1,"x":12.05,"y":0.585},{"v":-3.2,"g":1,"x":12.5,"y":0.585},{"v":-3.2,"g":1,"x":12.5,"y":0.79},
{"v":-3.7,"x":12.05,"y":0.776},{"v":-3.7,"x":11.78,"y":0.774},{"v":-3.7,"g":1,"x":10.78,"y":0.767},{"v":-3.7,"g":1,"x":8.03,"y":0.75},{"v":-3.7,"g":1,"x":6.75,"y":0.716},{"v":-3.7,"g":1,"x":6.22,"y":0.668},{"v":-3.7,"g":1,"x":6.63,"y":0.633},{"v":-3.7,"g":1,"x":7.45,"y":0.61},{"v":-3.7,"g":1,"x":9.2,"y":0.598},{"v":-3.7,"g":1,"x":12.05,"y":0.591},{"v":-3.7,"g":1,"x":12.5,"y":0.591},{"v":-3.7,"g":1,"x":12.5,"y":0.776},
{"v":-4.2,"x":12.05,"y":0.76},{"v":-4.2,"x":9.2,"y":0.745},{"v":-4.2,"x":7.68,"y":0.717},{"v":-4.2,"x":7.19,"y":0.669},{"v":-4.2,"x":7.68,"y":0.64},{"v":-4.2,"x":9.2,"y":0.612},{"v":-4.2,"x":11.37,"y":0.6},{"v":-4.2,"g":1,"x":12.05,"y":0.6},{"v":-4.2,"g":1,"x":12.5,"y":0.6},{"v":-4.2,"g":1,"x":12.5,"y":0.76},
{"v":-4.7,"x":12.05,"y":0.747},{"v":-4.7,"x":9.79,"y":0.73},{"v":-4.7,"x":8.62,"y":0.716},{"v":-4.7,"x":8.18,"y":0.68},{"v":-4.7,"x":8.62,"y":0.651},{"v":-4.7,"x":9.32,"y":0.634},{"v":-4.7,"g":1,"x":10.33,"y":0.62},{"v":-4.7,"g":1,"x":12.05,"y":0.611},{"v":-4.7,"g":1,"x":12.5,"y":0.611},{"v":-4.7,"g":1,"x":12.5,"y":0.747},
{"v":-5.2,"x":12.05,"y":0.729},{"v":-5.2,"x":10.72,"y":0.726},{"v":-5.2,"x":9.55,"y":0.71},{"v":-5.2,"x":9.15,"y":0.682},{"v":-5.2,"x":9.55,"y":0.654},{"v":-5.2,"x":10.55,"y":0.632},{"v":-5.2,"g":1,"x":11.19,"y":0.627},{"v":-5.2,"g":1,"x":12.05,"y":0.622},{"v":-5.2,"g":1,"x":12.5,"y":0.622},{"v":-5.2,"g":1,"x":12.5,"y":0.73},
{"v":-5.7,"x":10.96,"y":0.716},{"v":-5.7,"x":10.49,"y":0.71},{"v":-5.7,"x":10.12,"y":0.685},{"v":-5.7,"x":10.49,"y":0.657},{"v":-5.7,"x":11.43,"y":0.638},{"v":-5.7,"x":12.05,"y":0.632},{"v":-5.7,"x":12.5,"y":0.63},{"v":-5.7,"x":12.5,"y":0.722},
{"v":-6.1,"x":12.05,"y":0.712},{"v":-6.1,"x":11.32,"y":0.706},{"v":-6.1,"x":11.07,"y":0.685},{"v":-6.1,"x":11.32,"y":0.664},{"v":-6.1,"x":11.5,"y":0.659},{"v":-6.1,"g":"n","x":12.5,"y":0.645},{"v":-6.1,"g":"n","x":12.5,"y":0.715},
{"v":-6.6,"g":"n","x":11.8,"y":0.685},{"v":-6.6,"g":"n","x":12.5,"y":0.71},{"v":-6.6,"g":"n","x":12.5,"y":0.66},
{"v":51,"x":11.84,"y":0.72},{"v":51,"x":12.05,"y":0.722},
{"v":-1.01,"x":6.46,"y":0.536},{"v":-1.01,"x":7.45,"y":0.544},{"v":-1.01,"x":11.13,"y":0.55},{"v":-1.01,"g":1,"x":11.84,"y":0.552},{"v":-1.01,"g":1,"x":12.05,"y":0.552},{"v":-1.01,"g":1,"x":12.5,"y":0.552},{"v":-1.01,"g":1,"x":12.5,"y":0.4},{"v":-1.01,"g":1,"x":6.46,"y":0.4},
{"v":-0.5,"x":9.09,"y":0.536},{"v":-0.5,"x":9.79,"y":0.538},{"v":-0.5,"g":1,"x":10.78,"y":0.541},{"v":-0.5,"g":1,"x":12.05,"y":0.544},{"v":-0.5,"g":1,"x":12.5,"y":0.544},{"v":-0.5,"g":1,"x":12.5,"y":0.4},{"v":-0.5,"g":1,"x":9.09,"y":0.4},
{"v":53,"x":11.72,"y":0.536},{"v":53,"x":12.05,"y":0.536}],
"t6":[{"t":"−2","x":5.05,"y":0.856},{"t":"−3.5","x":11.31,"y":0.771,"a":-5},{"t":"−5.5","x":11.43,"y":0.721,"a":-12},{"t":"−6","x":11.72,"y":0.654,"a":25},{"t":"−4.5","x":9.85,"y":0.627,"a":12},{"t":"−5","x":10.9,"y":0.63,"a":8},{"t":"−4","x":11.72,"y":0.602,"a":-5},{"t":"−3","x":10.78,"y":0.585},{"t":"−2.5","x":9.77,"y":0.578},{"t":"−2","x":8.68,"y":0.568},{"t":"−1.5","x":4.47,"y":0.548},{"t":"−1","x":11.54,"y":0.55},{"t":"−0.5","x":10.35,"y":0.54},{"t":"−1","x":1.95,"y":0.548,"a":50}]
},
"concat":[
{"title":{"text":"Position 1","offset":13},"width":317,"height":183,"encoding":{"x":{"field":"x","type":"quantitative","scale":{"domain":[0.94,12.07],"nice":false,"zero":false},"axis":{"title":"Length (# letters)","values":[2,4,6,8,10,12]}},"y":{"field":"y","type":"quantitative","scale":{"domain":[0.533,0.877],"nice":false,"zero":false},"axis":{"title":"WMC (from 0.50 to 0.90)","values":[0.55,0.6,0.65,0.7,0.75,0.8,0.85],"labelExpr":"round(datum.value*100)%10==5?format(datum.value,'.2f'):''"}}},"layer":[
{"data":{"name":"c1"},"transform":[{"filter":"datum.v<50"}],"mark":{"type":"line","interpolate":"catmull-rom","clip":true,"order":null,"stroke":"transparent"},"encoding":{"detail":{"field":"v","type":"nominal"},"fill":{"field":"v","type":"quantitative","legend":null,"scale":{"domain":[-7.5,-6.5,-6,-5,-4,-3,-2.5,-2.01,-2,-1.5,-1,-0.5,0,1,2,3,4,5,6,7.5],"range":["#4400EE","#2200FF","#0010FF","#0050FF","#0088FF","#00B8FF","#00D8FF","#00EEFF","#00FF66","#00FF28","#00FF00","#18FF00","#48FF00","#90FF00","#D0FF00","#FFFF00","#FFDD00","#FFCC55","#FFD088","#FFE0B8"]}}}},
{"data":{"name":"c1"},"transform":[{"filter":"datum.g!='n'"}],"mark":{"type":"line","interpolate":"catmull-rom","clip":true,"order":null,"stroke":"black","strokeWidth":1.2},"encoding":{"detail":[{"field":"v","type":"nominal"},{"field":"g","type":"nominal"}]}},
{"data":{"name":"t1"},"mark":{"type":"text","fontSize":12.5,"color":"black"},"encoding":{"text":{"field":"t"},"angle":{"field":"a","type":"quantitative","scale":null}}},
{"data":{"name":"frame"},"mark":{"type":"rect","fill":null,"stroke":"#222","strokeWidth":1},"encoding":{"x2":{"field":"x2"},"y2":{"field":"y2"}}}]},
{"title":{"text":"Amplitude\u00a0\u00a0\u00a0\u00a0(µV)","fontSize":14,"fontWeight":"normal","offset":21},"width":12.4,"height":183,"data":{"name":"bar"},"encoding":{"y":{"field":"a","type":"quantitative","scale":{"domain":[-8.34,8.34],"nice":false,"zero":false},"axis":{"orient":"right","title":null,"values":[-6,-4,-2,0,2,4,6],"format":"d","tickSize":9,"labelPadding":8,"labelAngle":0,"labelAlign":"left","labelBaseline":"middle","labelOverlap":false,"labelBound":false,"labelSeparation":0}},"y2":{"field":"b"}},"layer":[{"mark":"rect","encoding":{"fill":{"field":"v","type":"quantitative","legend":null,"scale":{"domain":[-7.5,-6.5,-6,-5,-4,-3,-2.5,-2.01,-2,-1.5,-1,-0.5,0,1,2,3,4,5,6,7.5],"range":["#4400EE","#2200FF","#0010FF","#0050FF","#0088FF","#00B8FF","#00D8FF","#00EEFF","#00FF66","#00FF28","#00FF00","#18FF00","#48FF00","#90FF00","#D0FF00","#FFFF00","#FFDD00","#FFCC55","#FFD088","#FFE0B8"]}}}},{"data":{"name":"bf"},"mark":{"type":"rect","fill":null,"stroke":"black","strokeWidth":1.3}}]},
{"width":101.6,"height":183,"data":{"values":[{}]},"mark":{"type":"rect","opacity":0},"encoding":{}},
{"title":{"text":"Position 2","offset":17},"width":317,"height":183,"encoding":{"x":{"field":"x","type":"quantitative","scale":{"domain":[0.94,12.07],"nice":false,"zero":false},"axis":{"title":null,"values":[2,4,6,8,10,12]}},"y":{"field":"y","type":"quantitative","scale":{"domain":[0.533,0.877],"nice":false,"zero":false},"axis":{"title":null,"values":[0.55,0.6,0.65,0.7,0.75,0.8,0.85],"labelExpr":"round(datum.value*100)%10==5?format(datum.value,'.2f'):''"}}},"layer":[
{"data":{"name":"c2"},"transform":[{"filter":"datum.v<50"}],"mark":{"type":"line","interpolate":"catmull-rom","clip":true,"order":null,"stroke":"transparent"},"encoding":{"detail":{"field":"v","type":"nominal"},"fill":{"field":"v","type":"quantitative","legend":null,"scale":{"domain":[-7.5,-6.5,-6,-5,-4,-3,-2.5,-2.01,-2,-1.5,-1,-0.5,0,1,2,3,4,5,6,7.5],"range":["#4400EE","#2200FF","#0010FF","#0050FF","#0088FF","#00B8FF","#00D8FF","#00EEFF","#00FF66","#00FF28","#00FF00","#18FF00","#48FF00","#90FF00","#D0FF00","#FFFF00","#FFDD00","#FFCC55","#FFD088","#FFE0B8"]}}}},
{"data":{"name":"c2"},"transform":[{"filter":"datum.g!='n'"}],"mark":{"type":"line","interpolate":"catmull-rom","clip":true,"order":null,"stroke":"black","strokeWidth":1.2},"encoding":{"detail":[{"field":"v","type":"nominal"},{"field":"g","type":"nominal"}]}},
{"data":{"name":"t2"},"mark":{"type":"text","fontSize":12.5,"color":"black"},"encoding":{"text":{"field":"t"},"angle":{"field":"a","type":"quantitative","scale":null}}},
{"data":{"name":"frame"},"mark":{"type":"rect","fill":null,"stroke":"#222","strokeWidth":1},"encoding":{"x2":{"field":"x2"},"y2":{"field":"y2"}}}]},
{"title":{"text":"Amplitude\u00a0\u00a0\u00a0\u00a0(µV)","fontSize":14,"fontWeight":"normal","offset":21},"width":12.4,"height":183,"data":{"name":"bar"},"encoding":{"y":{"field":"a","type":"quantitative","scale":{"domain":[-8.34,8.34],"nice":false,"zero":false},"axis":{"orient":"right","title":null,"values":[-6,-4,-2,0,2,4,6],"format":"d","tickSize":9,"labelPadding":8,"labelAngle":0,"labelAlign":"left","labelBaseline":"middle","labelOverlap":false,"labelBound":false,"labelSeparation":0}},"y2":{"field":"b"}},"layer":[{"mark":"rect","encoding":{"fill":{"field":"v","type":"quantitative","legend":null,"scale":{"domain":[-7.5,-6.5,-6,-5,-4,-3,-2.5,-2.01,-2,-1.5,-1,-0.5,0,1,2,3,4,5,6,7.5],"range":["#4400EE","#2200FF","#0010FF","#0050FF","#0088FF","#00B8FF","#00D8FF","#00EEFF","#00FF66","#00FF28","#00FF00","#18FF00","#48FF00","#90FF00","#D0FF00","#FFFF00","#FFDD00","#FFCC55","#FFD088","#FFE0B8"]}}}},{"data":{"name":"bf"},"mark":{"type":"rect","fill":null,"stroke":"black","strokeWidth":1.3}}]},
{"title":{"text":"Position 3","offset":13},"width":317,"height":183,"encoding":{"x":{"field":"x","type":"quantitative","scale":{"domain":[0.94,12.07],"nice":false,"zero":false},"axis":{"title":null,"values":[2,4,6,8,10,12]}},"y":{"field":"y","type":"quantitative","scale":{"domain":[0.533,0.877],"nice":false,"zero":false},"axis":{"title":"WMC (from 0.50 to 0.90)","values":[0.55,0.6,0.65,0.7,0.75,0.8,0.85],"labelExpr":"round(datum.value*100)%10==5?format(datum.value,'.2f'):''"}}},"layer":[
{"data":{"name":"c3"},"transform":[{"filter":"datum.v<50"}],"mark":{"type":"line","interpolate":"catmull-rom","clip":true,"order":null,"stroke":"transparent"},"encoding":{"detail":{"field":"v","type":"nominal"},"fill":{"field":"v","type":"quantitative","legend":null,"scale":{"domain":[-7.5,-6.5,-6,-5,-4,-3,-2.5,-2.01,-2,-1.5,-1,-0.5,0,1,2,3,4,5,6,7.5],"range":["#4400EE","#2200FF","#0010FF","#0050FF","#0088FF","#00B8FF","#00D8FF","#00EEFF","#00FF66","#00FF28","#00FF00","#18FF00","#48FF00","#90FF00","#D0FF00","#FFFF00","#FFDD00","#FFCC55","#FFD088","#FFE0B8"]}}}},
{"data":{"name":"c3"},"transform":[{"filter":"datum.g!='n'"}],"mark":{"type":"line","interpolate":"catmull-rom","clip":true,"order":null,"stroke":"black","strokeWidth":1.2},"encoding":{"detail":[{"field":"v","type":"nominal"},{"field":"g","type":"nominal"}]}},
{"data":{"name":"t3"},"mark":{"type":"text","fontSize":12.5,"color":"black"},"encoding":{"text":{"field":"t"},"angle":{"field":"a","type":"quantitative","scale":null}}},
{"data":{"name":"frame"},"mark":{"type":"rect","fill":null,"stroke":"#222","strokeWidth":1},"encoding":{"x2":{"field":"x2"},"y2":{"field":"y2"}}}]},
{"title":{"text":"Amplitude\u00a0\u00a0\u00a0\u00a0(µV)","fontSize":14,"fontWeight":"normal","offset":21},"width":12.4,"height":183,"data":{"name":"bar"},"encoding":{"y":{"field":"a","type":"quantitative","scale":{"domain":[-8.34,8.34],"nice":false,"zero":false},"axis":{"orient":"right","title":null,"values":[-6,-4,-2,0,2,4,6],"format":"d","tickSize":9,"labelPadding":8,"labelAngle":0,"labelAlign":"left","labelBaseline":"middle","labelOverlap":false,"labelBound":false,"labelSeparation":0}},"y2":{"field":"b"}},"layer":[{"mark":"rect","encoding":{"fill":{"field":"v","type":"quantitative","legend":null,"scale":{"domain":[-7.5,-6.5,-6,-5,-4,-3,-2.5,-2.01,-2,-1.5,-1,-0.5,0,1,2,3,4,5,6,7.5],"range":["#4400EE","#2200FF","#0010FF","#0050FF","#0088FF","#00B8FF","#00D8FF","#00EEFF","#00FF66","#00FF28","#00FF00","#18FF00","#48FF00","#90FF00","#D0FF00","#FFFF00","#FFDD00","#FFCC55","#FFD088","#FFE0B8"]}}}},{"data":{"name":"bf"},"mark":{"type":"rect","fill":null,"stroke":"black","strokeWidth":1.3}}]},
{"width":101.6,"height":183,"data":{"values":[{}]},"mark":{"type":"rect","opacity":0},"encoding":{}},
{"title":{"text":"Position 4","offset":14},"width":317,"height":183,"encoding":{"x":{"field":"x","type":"quantitative","scale":{"domain":[0.94,12.07],"nice":false,"zero":false},"axis":{"title":"Length (# letters)","values":[2,4,6,8,10,12]}},"y":{"field":"y","type":"quantitative","scale":{"domain":[0.533,0.877],"nice":false,"zero":false},"axis":{"title":null,"values":[0.55,0.6,0.65,0.7,0.75,0.8,0.85],"labelExpr":"round(datum.value*100)%10==5?format(datum.value,'.2f'):''"}}},"layer":[
{"data":{"name":"c4"},"transform":[{"filter":"datum.v<50"}],"mark":{"type":"line","interpolate":"catmull-rom","clip":true,"order":null,"stroke":"transparent"},"encoding":{"detail":{"field":"v","type":"nominal"},"fill":{"field":"v","type":"quantitative","legend":null,"scale":{"domain":[-7.5,-6.5,-6,-5,-4,-3,-2.5,-2.01,-2,-1.5,-1,-0.5,0,1,2,3,4,5,6,7.5],"range":["#4400EE","#2200FF","#0010FF","#0050FF","#0088FF","#00B8FF","#00D8FF","#00EEFF","#00FF66","#00FF28","#00FF00","#18FF00","#48FF00","#90FF00","#D0FF00","#FFFF00","#FFDD00","#FFCC55","#FFD088","#FFE0B8"]}}}},
{"data":{"name":"c4"},"transform":[{"filter":"datum.g!='n'"}],"mark":{"type":"line","interpolate":"catmull-rom","clip":true,"order":null,"stroke":"black","strokeWidth":1.2},"encoding":{"detail":[{"field":"v","type":"nominal"},{"field":"g","type":"nominal"}]}},
{"data":{"name":"t4"},"mark":{"type":"text","fontSize":12.5,"color":"black"},"encoding":{"text":{"field":"t"},"angle":{"field":"a","type":"quantitative","scale":null}}},
{"data":{"name":"frame"},"mark":{"type":"rect","fill":null,"stroke":"#222","strokeWidth":1},"encoding":{"x2":{"field":"x2"},"y2":{"field":"y2"}}}]},
{"title":{"text":"Amplitude\u00a0\u00a0\u00a0\u00a0(µV)","fontSize":14,"fontWeight":"normal","offset":21},"width":12.4,"height":183,"data":{"name":"bar"},"encoding":{"y":{"field":"a","type":"quantitative","scale":{"domain":[-8.34,8.34],"nice":false,"zero":false},"axis":{"orient":"right","title":null,"values":[-6,-4,-2,0,2,4,6],"format":"d","tickSize":9,"labelPadding":8,"labelAngle":0,"labelAlign":"left","labelBaseline":"middle","labelOverlap":false,"labelBound":false,"labelSeparation":0}},"y2":{"field":"b"}},"layer":[{"mark":"rect","encoding":{"fill":{"field":"v","type":"quantitative","legend":null,"scale":{"domain":[-7.5,-6.5,-6,-5,-4,-3,-2.5,-2.01,-2,-1.5,-1,-0.5,0,1,2,3,4,5,6,7.5],"range":["#4400EE","#2200FF","#0010FF","#0050FF","#0088FF","#00B8FF","#00D8FF","#00EEFF","#00FF66","#00FF28","#00FF00","#18FF00","#48FF00","#90FF00","#D0FF00","#FFFF00","#FFDD00","#FFCC55","#FFD088","#FFE0B8"]}}}},{"data":{"name":"bf"},"mark":{"type":"rect","fill":null,"stroke":"black","strokeWidth":1.3}}]},
{"title":{"text":"Position 5","offset":13},"width":317,"height":183,"encoding":{"x":{"field":"x","type":"quantitative","scale":{"domain":[0.94,12.07],"nice":false,"zero":false},"axis":{"title":"Length (# letters)","values":[2,4,6,8,10,12]}},"y":{"field":"y","type":"quantitative","scale":{"domain":[0.533,0.877],"nice":false,"zero":false},"axis":{"title":"WMC (from 0.50 to 0.90)","values":[0.55,0.6,0.65,0.7,0.75,0.8,0.85],"labelExpr":"round(datum.value*100)%10==5?format(datum.value,'.2f'):''"}}},"layer":[
{"data":{"name":"c5"},"transform":[{"filter":"datum.v<50"}],"mark":{"type":"line","interpolate":"catmull-rom","clip":true,"order":null,"stroke":"transparent"},"encoding":{"detail":{"field":"v","type":"nominal"},"fill":{"field":"v","type":"quantitative","legend":null,"scale":{"domain":[-7.5,-6.5,-6,-5,-4,-3,-2.5,-2.01,-2,-1.5,-1,-0.5,0,1,2,3,4,5,6,7.5],"range":["#4400EE","#2200FF","#0010FF","#0050FF","#0088FF","#00B8FF","#00D8FF","#00EEFF","#00FF66","#00FF28","#00FF00","#18FF00","#48FF00","#90FF00","#D0FF00","#FFFF00","#FFDD00","#FFCC55","#FFD088","#FFE0B8"]}}}},
{"data":{"name":"c5"},"transform":[{"filter":"datum.g!='n'"}],"mark":{"type":"line","interpolate":"catmull-rom","clip":true,"order":null,"stroke":"black","strokeWidth":1.2},"encoding":{"detail":[{"field":"v","type":"nominal"},{"field":"g","type":"nominal"}]}},
{"data":{"name":"t5"},"mark":{"type":"text","fontSize":12.5,"color":"black"},"encoding":{"text":{"field":"t"},"angle":{"field":"a","type":"quantitative","scale":null}}},
{"data":{"name":"frame"},"mark":{"type":"rect","fill":null,"stroke":"#222","strokeWidth":1},"encoding":{"x2":{"field":"x2"},"y2":{"field":"y2"}}}]},
{"title":{"text":"Amplitude\u00a0\u00a0\u00a0\u00a0(µV)","fontSize":14,"fontWeight":"normal","offset":21},"width":12.4,"height":183,"data":{"name":"bar"},"encoding":{"y":{"field":"a","type":"quantitative","scale":{"domain":[-8.34,8.34],"nice":false,"zero":false},"axis":{"orient":"right","title":null,"values":[-6,-4,-2,0,2,4,6],"format":"d","tickSize":9,"labelPadding":8,"labelAngle":0,"labelAlign":"left","labelBaseline":"middle","labelOverlap":false,"labelBound":false,"labelSeparation":0}},"y2":{"field":"b"}},"layer":[{"mark":"rect","encoding":{"fill":{"field":"v","type":"quantitative","legend":null,"scale":{"domain":[-7.5,-6.5,-6,-5,-4,-3,-2.5,-2.01,-2,-1.5,-1,-0.5,0,1,2,3,4,5,6,7.5],"range":["#4400EE","#2200FF","#0010FF","#0050FF","#0088FF","#00B8FF","#00D8FF","#00EEFF","#00FF66","#00FF28","#00FF00","#18FF00","#48FF00","#90FF00","#D0FF00","#FFFF00","#FFDD00","#FFCC55","#FFD088","#FFE0B8"]}}}},{"data":{"name":"bf"},"mark":{"type":"rect","fill":null,"stroke":"black","strokeWidth":1.3}}]},
{"width":101.6,"height":183,"data":{"values":[{}]},"mark":{"type":"rect","opacity":0},"encoding":{}},
{"title":{"text":"Position 6","offset":17},"width":317,"height":183,"encoding":{"x":{"field":"x","type":"quantitative","scale":{"domain":[0.94,12.07],"nice":false,"zero":false},"axis":{"title":null,"values":[2,4,6,8,10,12]}},"y":{"field":"y","type":"quantitative","scale":{"domain":[0.533,0.877],"nice":false,"zero":false},"axis":{"title":null,"values":[0.55,0.6,0.65,0.7,0.75,0.8,0.85],"labelExpr":"round(datum.value*100)%10==5?format(datum.value,'.2f'):''"}}},"layer":[
{"data":{"name":"c6"},"transform":[{"filter":"datum.v<50"}],"mark":{"type":"line","interpolate":"catmull-rom","clip":true,"order":null,"stroke":"transparent"},"encoding":{"detail":{"field":"v","type":"nominal"},"fill":{"field":"v","type":"quantitative","legend":null,"scale":{"domain":[-7.5,-6.5,-6,-5,-4,-3,-2.5,-2.01,-2,-1.5,-1,-0.5,0,1,2,3,4,5,6,7.5],"range":["#4400EE","#2200FF","#0010FF","#0050FF","#0088FF","#00B8FF","#00D8FF","#00EEFF","#00FF66","#00FF28","#00FF00","#18FF00","#48FF00","#90FF00","#D0FF00","#FFFF00","#FFDD00","#FFCC55","#FFD088","#FFE0B8"]}}}},
{"data":{"name":"c6"},"transform":[{"filter":"datum.g!='n'"}],"mark":{"type":"line","interpolate":"catmull-rom","clip":true,"order":null,"stroke":"black","strokeWidth":1.2},"encoding":{"detail":[{"field":"v","type":"nominal"},{"field":"g","type":"nominal"}]}},
{"data":{"name":"t6"},"mark":{"type":"text","fontSize":12.5,"color":"black"},"encoding":{"text":{"field":"t"},"angle":{"field":"a","type":"quantitative","scale":null}}},
{"data":{"name":"frame"},"mark":{"type":"rect","fill":null,"stroke":"#222","strokeWidth":1},"encoding":{"x2":{"field":"x2"},"y2":{"field":"y2"}}}]},
{"title":{"text":"Amplitude\u00a0\u00a0\u00a0\u00a0(µV)","fontSize":14,"fontWeight":"normal","offset":21},"width":12.4,"height":183,"data":{"name":"bar"},"encoding":{"y":{"field":"a","type":"quantitative","scale":{"domain":[-8.34,8.34],"nice":false,"zero":false},"axis":{"orient":"right","title":null,"values":[-6,-4,-2,0,2,4,6],"format":"d","tickSize":9,"labelPadding":8,"labelAngle":0,"labelAlign":"left","labelBaseline":"middle","labelOverlap":false,"labelBound":false,"labelSeparation":0}},"y2":{"field":"b"}},"layer":[{"mark":"rect","encoding":{"fill":{"field":"v","type":"quantitative","legend":null,"scale":{"domain":[-7.5,-6.5,-6,-5,-4,-3,-2.5,-2.01,-2,-1.5,-1,-0.5,0,1,2,3,4,5,6,7.5],"range":["#4400EE","#2200FF","#0010FF","#0050FF","#0088FF","#00B8FF","#00D8FF","#00EEFF","#00FF66","#00FF28","#00FF00","#18FF00","#48FF00","#90FF00","#D0FF00","#FFFF00","#FFDD00","#FFCC55","#FFD088","#FFE0B8"]}}}},{"data":{"name":"bf"},"mark":{"type":"rect","fill":null,"stroke":"black","strokeWidth":1.3}}]}
]}
